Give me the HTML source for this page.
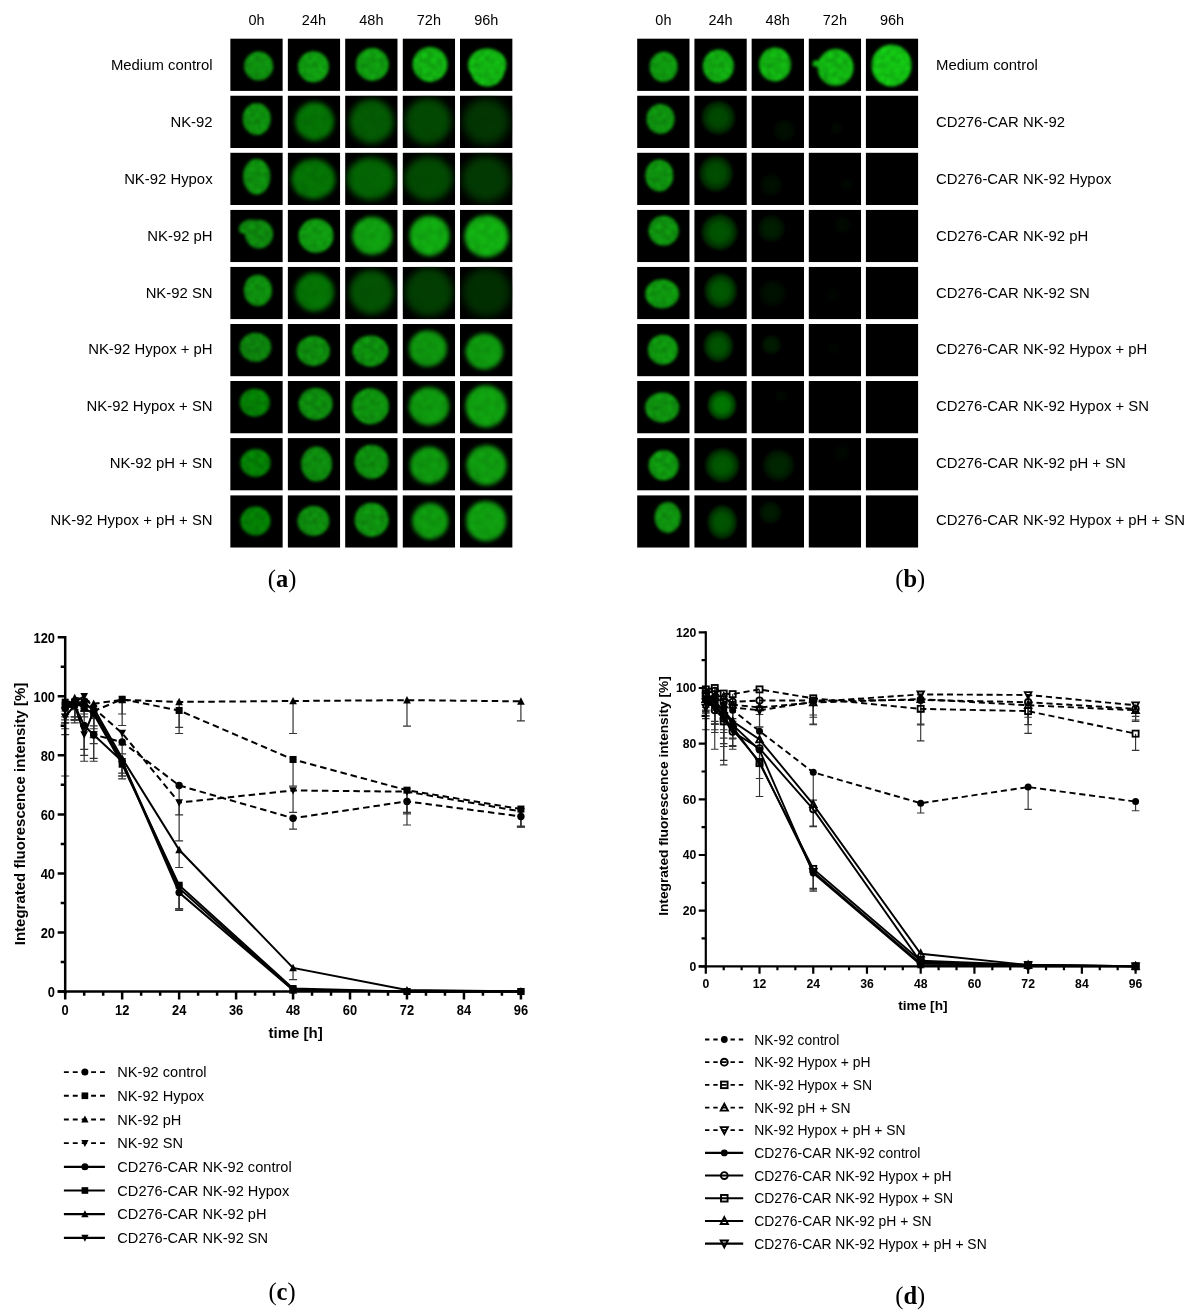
<!DOCTYPE html>
<html><head><meta charset="utf-8"><title>Figure</title>
<style>
html,body{margin:0;padding:0;background:#fff;}
body{width:1195px;height:1315px;overflow:hidden;}
svg.main{display:block;will-change:transform;}
text{fill:#000;}
</style></head><body>
<svg class="main" width="1195" height="1315" viewBox="0 0 1195 1315">
<defs><radialGradient id="gs"><stop offset="0" stop-color="#0f0" stop-opacity="1"/><stop offset="0.45" stop-color="#0f0" stop-opacity="0.92"/><stop offset="0.75" stop-color="#0f0" stop-opacity="0.55"/><stop offset="0.9" stop-color="#0f0" stop-opacity="0.2"/><stop offset="1" stop-color="#0f0" stop-opacity="0"/></radialGradient><filter id="b0" filterUnits="userSpaceOnUse" x="-5" y="-5" width="65" height="65" color-interpolation-filters="sRGB"><feTurbulence type="fractalNoise" baseFrequency="0.2" numOctaves="2" seed="1" result="n"/><feColorMatrix in="n" type="matrix" values="1 0 0 0 0 1 0 0 0 0 1 0 0 0 0 0 0 0 0 1" result="g"/><feComposite in="SourceGraphic" in2="g" operator="arithmetic" k1="0.55" k2="0.74" k3="0" k4="0" result="t"/><feGaussianBlur in="t" stdDeviation="1.4"/></filter><filter id="b1" filterUnits="userSpaceOnUse" x="-5" y="-5" width="65" height="65" color-interpolation-filters="sRGB"><feTurbulence type="fractalNoise" baseFrequency="0.2" numOctaves="2" seed="2" result="n"/><feColorMatrix in="n" type="matrix" values="1 0 0 0 0 1 0 0 0 0 1 0 0 0 0 0 0 0 0 1" result="g"/><feComposite in="SourceGraphic" in2="g" operator="arithmetic" k1="0.55" k2="0.74" k3="0" k4="0" result="t"/><feGaussianBlur in="t" stdDeviation="1.4"/></filter><filter id="b2" filterUnits="userSpaceOnUse" x="-5" y="-5" width="65" height="65" color-interpolation-filters="sRGB"><feTurbulence type="fractalNoise" baseFrequency="0.2" numOctaves="2" seed="3" result="n"/><feColorMatrix in="n" type="matrix" values="1 0 0 0 0 1 0 0 0 0 1 0 0 0 0 0 0 0 0 1" result="g"/><feComposite in="SourceGraphic" in2="g" operator="arithmetic" k1="0.55" k2="0.74" k3="0" k4="0" result="t"/><feGaussianBlur in="t" stdDeviation="1.6"/></filter><filter id="b3" filterUnits="userSpaceOnUse" x="-5" y="-5" width="65" height="65" color-interpolation-filters="sRGB"><feTurbulence type="fractalNoise" baseFrequency="0.2" numOctaves="2" seed="4" result="n"/><feColorMatrix in="n" type="matrix" values="1 0 0 0 0 1 0 0 0 0 1 0 0 0 0 0 0 0 0 1" result="g"/><feComposite in="SourceGraphic" in2="g" operator="arithmetic" k1="0.55" k2="0.74" k3="0" k4="0" result="t"/><feGaussianBlur in="t" stdDeviation="1.6"/></filter><filter id="b4" filterUnits="userSpaceOnUse" x="-5" y="-5" width="65" height="65" color-interpolation-filters="sRGB"><feTurbulence type="fractalNoise" baseFrequency="0.2" numOctaves="2" seed="1" result="n"/><feColorMatrix in="n" type="matrix" values="1 0 0 0 0 1 0 0 0 0 1 0 0 0 0 0 0 0 0 1" result="g"/><feComposite in="SourceGraphic" in2="g" operator="arithmetic" k1="0.55" k2="0.74" k3="0" k4="0" result="t"/><feGaussianBlur in="t" stdDeviation="1.8"/></filter><filter id="b5" filterUnits="userSpaceOnUse" x="-5" y="-5" width="65" height="65" color-interpolation-filters="sRGB"><feTurbulence type="fractalNoise" baseFrequency="0.2" numOctaves="2" seed="3" result="n"/><feColorMatrix in="n" type="matrix" values="1 0 0 0 0 1 0 0 0 0 1 0 0 0 0 0 0 0 0 1" result="g"/><feComposite in="SourceGraphic" in2="g" operator="arithmetic" k1="0.55" k2="0.74" k3="0" k4="0" result="t"/><feGaussianBlur in="t" stdDeviation="2.9"/></filter><filter id="b6" filterUnits="userSpaceOnUse" x="-5" y="-5" width="65" height="65" color-interpolation-filters="sRGB"><feTurbulence type="fractalNoise" baseFrequency="0.2" numOctaves="2" seed="4" result="n"/><feColorMatrix in="n" type="matrix" values="1 0 0 0 0 1 0 0 0 0 1 0 0 0 0 0 0 0 0 1" result="g"/><feComposite in="SourceGraphic" in2="g" operator="arithmetic" k1="0.55" k2="0.74" k3="0" k4="0" result="t"/><feGaussianBlur in="t" stdDeviation="3.3"/></filter><filter id="b7" filterUnits="userSpaceOnUse" x="-5" y="-5" width="65" height="65" color-interpolation-filters="sRGB"><feTurbulence type="fractalNoise" baseFrequency="0.2" numOctaves="2" seed="1" result="n"/><feColorMatrix in="n" type="matrix" values="1 0 0 0 0 1 0 0 0 0 1 0 0 0 0 0 0 0 0 1" result="g"/><feComposite in="SourceGraphic" in2="g" operator="arithmetic" k1="0.55" k2="0.74" k3="0" k4="0" result="t"/><feGaussianBlur in="t" stdDeviation="3.6"/></filter><filter id="b8" filterUnits="userSpaceOnUse" x="-5" y="-5" width="65" height="65" color-interpolation-filters="sRGB"><feTurbulence type="fractalNoise" baseFrequency="0.2" numOctaves="2" seed="2" result="n"/><feColorMatrix in="n" type="matrix" values="1 0 0 0 0 1 0 0 0 0 1 0 0 0 0 0 0 0 0 1" result="g"/><feComposite in="SourceGraphic" in2="g" operator="arithmetic" k1="0.55" k2="0.74" k3="0" k4="0" result="t"/><feGaussianBlur in="t" stdDeviation="4.0"/></filter><filter id="b9" filterUnits="userSpaceOnUse" x="-5" y="-5" width="65" height="65" color-interpolation-filters="sRGB"><feTurbulence type="fractalNoise" baseFrequency="0.2" numOctaves="2" seed="3" result="n"/><feColorMatrix in="n" type="matrix" values="1 0 0 0 0 1 0 0 0 0 1 0 0 0 0 0 0 0 0 1" result="g"/><feComposite in="SourceGraphic" in2="g" operator="arithmetic" k1="0.55" k2="0.74" k3="0" k4="0" result="t"/><feGaussianBlur in="t" stdDeviation="1.4"/></filter><filter id="b10" filterUnits="userSpaceOnUse" x="-5" y="-5" width="65" height="65" color-interpolation-filters="sRGB"><feTurbulence type="fractalNoise" baseFrequency="0.2" numOctaves="2" seed="4" result="n"/><feColorMatrix in="n" type="matrix" values="1 0 0 0 0 1 0 0 0 0 1 0 0 0 0 0 0 0 0 1" result="g"/><feComposite in="SourceGraphic" in2="g" operator="arithmetic" k1="0.55" k2="0.74" k3="0" k4="0" result="t"/><feGaussianBlur in="t" stdDeviation="2.6"/></filter><filter id="b11" filterUnits="userSpaceOnUse" x="-5" y="-5" width="65" height="65" color-interpolation-filters="sRGB"><feTurbulence type="fractalNoise" baseFrequency="0.2" numOctaves="2" seed="1" result="n"/><feColorMatrix in="n" type="matrix" values="1 0 0 0 0 1 0 0 0 0 1 0 0 0 0 0 0 0 0 1" result="g"/><feComposite in="SourceGraphic" in2="g" operator="arithmetic" k1="0.55" k2="0.74" k3="0" k4="0" result="t"/><feGaussianBlur in="t" stdDeviation="3.1"/></filter><filter id="b12" filterUnits="userSpaceOnUse" x="-5" y="-5" width="65" height="65" color-interpolation-filters="sRGB"><feTurbulence type="fractalNoise" baseFrequency="0.2" numOctaves="2" seed="2" result="n"/><feColorMatrix in="n" type="matrix" values="1 0 0 0 0 1 0 0 0 0 1 0 0 0 0 0 0 0 0 1" result="g"/><feComposite in="SourceGraphic" in2="g" operator="arithmetic" k1="0.55" k2="0.74" k3="0" k4="0" result="t"/><feGaussianBlur in="t" stdDeviation="3.6"/></filter><filter id="b13" filterUnits="userSpaceOnUse" x="-5" y="-5" width="65" height="65" color-interpolation-filters="sRGB"><feTurbulence type="fractalNoise" baseFrequency="0.2" numOctaves="2" seed="3" result="n"/><feColorMatrix in="n" type="matrix" values="1 0 0 0 0 1 0 0 0 0 1 0 0 0 0 0 0 0 0 1" result="g"/><feComposite in="SourceGraphic" in2="g" operator="arithmetic" k1="0.55" k2="0.74" k3="0" k4="0" result="t"/><feGaussianBlur in="t" stdDeviation="4.0"/></filter><filter id="b14" filterUnits="userSpaceOnUse" x="-5" y="-5" width="65" height="65" color-interpolation-filters="sRGB"><feTurbulence type="fractalNoise" baseFrequency="0.2" numOctaves="2" seed="4" result="n"/><feColorMatrix in="n" type="matrix" values="1 0 0 0 0 1 0 0 0 0 1 0 0 0 0 0 0 0 0 1" result="g"/><feComposite in="SourceGraphic" in2="g" operator="arithmetic" k1="0.55" k2="0.74" k3="0" k4="0" result="t"/><feGaussianBlur in="t" stdDeviation="1.4"/></filter><filter id="b15" filterUnits="userSpaceOnUse" x="-5" y="-5" width="65" height="65" color-interpolation-filters="sRGB"><feTurbulence type="fractalNoise" baseFrequency="0.2" numOctaves="2" seed="2" result="n"/><feColorMatrix in="n" type="matrix" values="1 0 0 0 0 1 0 0 0 0 1 0 0 0 0 0 0 0 0 1" result="g"/><feComposite in="SourceGraphic" in2="g" operator="arithmetic" k1="0.55" k2="0.74" k3="0" k4="0" result="t"/><feGaussianBlur in="t" stdDeviation="2.0"/></filter><filter id="b16" filterUnits="userSpaceOnUse" x="-5" y="-5" width="65" height="65" color-interpolation-filters="sRGB"><feTurbulence type="fractalNoise" baseFrequency="0.2" numOctaves="2" seed="3" result="n"/><feColorMatrix in="n" type="matrix" values="1 0 0 0 0 1 0 0 0 0 1 0 0 0 0 0 0 0 0 1" result="g"/><feComposite in="SourceGraphic" in2="g" operator="arithmetic" k1="0.55" k2="0.74" k3="0" k4="0" result="t"/><feGaussianBlur in="t" stdDeviation="2.2"/></filter><filter id="b17" filterUnits="userSpaceOnUse" x="-5" y="-5" width="65" height="65" color-interpolation-filters="sRGB"><feTurbulence type="fractalNoise" baseFrequency="0.2" numOctaves="2" seed="4" result="n"/><feColorMatrix in="n" type="matrix" values="1 0 0 0 0 1 0 0 0 0 1 0 0 0 0 0 0 0 0 1" result="g"/><feComposite in="SourceGraphic" in2="g" operator="arithmetic" k1="0.55" k2="0.74" k3="0" k4="0" result="t"/><feGaussianBlur in="t" stdDeviation="2.3"/></filter><filter id="b18" filterUnits="userSpaceOnUse" x="-5" y="-5" width="65" height="65" color-interpolation-filters="sRGB"><feTurbulence type="fractalNoise" baseFrequency="0.2" numOctaves="2" seed="2" result="n"/><feColorMatrix in="n" type="matrix" values="1 0 0 0 0 1 0 0 0 0 1 0 0 0 0 0 0 0 0 1" result="g"/><feComposite in="SourceGraphic" in2="g" operator="arithmetic" k1="0.55" k2="0.74" k3="0" k4="0" result="t"/><feGaussianBlur in="t" stdDeviation="2.9"/></filter><filter id="b19" filterUnits="userSpaceOnUse" x="-5" y="-5" width="65" height="65" color-interpolation-filters="sRGB"><feTurbulence type="fractalNoise" baseFrequency="0.2" numOctaves="2" seed="3" result="n"/><feColorMatrix in="n" type="matrix" values="1 0 0 0 0 1 0 0 0 0 1 0 0 0 0 0 0 0 0 1" result="g"/><feComposite in="SourceGraphic" in2="g" operator="arithmetic" k1="0.55" k2="0.74" k3="0" k4="0" result="t"/><feGaussianBlur in="t" stdDeviation="3.3"/></filter><filter id="b20" filterUnits="userSpaceOnUse" x="-5" y="-5" width="65" height="65" color-interpolation-filters="sRGB"><feTurbulence type="fractalNoise" baseFrequency="0.2" numOctaves="2" seed="4" result="n"/><feColorMatrix in="n" type="matrix" values="1 0 0 0 0 1 0 0 0 0 1 0 0 0 0 0 0 0 0 1" result="g"/><feComposite in="SourceGraphic" in2="g" operator="arithmetic" k1="0.55" k2="0.74" k3="0" k4="0" result="t"/><feGaussianBlur in="t" stdDeviation="3.6"/></filter><filter id="b21" filterUnits="userSpaceOnUse" x="-5" y="-5" width="65" height="65" color-interpolation-filters="sRGB"><feTurbulence type="fractalNoise" baseFrequency="0.2" numOctaves="2" seed="1" result="n"/><feColorMatrix in="n" type="matrix" values="1 0 0 0 0 1 0 0 0 0 1 0 0 0 0 0 0 0 0 1" result="g"/><feComposite in="SourceGraphic" in2="g" operator="arithmetic" k1="0.55" k2="0.74" k3="0" k4="0" result="t"/><feGaussianBlur in="t" stdDeviation="4.0"/></filter><filter id="b22" filterUnits="userSpaceOnUse" x="-5" y="-5" width="65" height="65" color-interpolation-filters="sRGB"><feTurbulence type="fractalNoise" baseFrequency="0.2" numOctaves="2" seed="4" result="n"/><feColorMatrix in="n" type="matrix" values="1 0 0 0 0 1 0 0 0 0 1 0 0 0 0 0 0 0 0 1" result="g"/><feComposite in="SourceGraphic" in2="g" operator="arithmetic" k1="0.55" k2="0.74" k3="0" k4="0" result="t"/><feGaussianBlur in="t" stdDeviation="1.8"/></filter><filter id="b23" filterUnits="userSpaceOnUse" x="-5" y="-5" width="65" height="65" color-interpolation-filters="sRGB"><feTurbulence type="fractalNoise" baseFrequency="0.2" numOctaves="2" seed="1" result="n"/><feColorMatrix in="n" type="matrix" values="1 0 0 0 0 1 0 0 0 0 1 0 0 0 0 0 0 0 0 1" result="g"/><feComposite in="SourceGraphic" in2="g" operator="arithmetic" k1="0.55" k2="0.74" k3="0" k4="0" result="t"/><feGaussianBlur in="t" stdDeviation="2.0"/></filter><filter id="b24" filterUnits="userSpaceOnUse" x="-5" y="-5" width="65" height="65" color-interpolation-filters="sRGB"><feTurbulence type="fractalNoise" baseFrequency="0.2" numOctaves="2" seed="2" result="n"/><feColorMatrix in="n" type="matrix" values="1 0 0 0 0 1 0 0 0 0 1 0 0 0 0 0 0 0 0 1" result="g"/><feComposite in="SourceGraphic" in2="g" operator="arithmetic" k1="0.55" k2="0.74" k3="0" k4="0" result="t"/><feGaussianBlur in="t" stdDeviation="2.2"/></filter><filter id="b25" filterUnits="userSpaceOnUse" x="-5" y="-5" width="65" height="65" color-interpolation-filters="sRGB"><feTurbulence type="fractalNoise" baseFrequency="0.2" numOctaves="2" seed="1" result="n"/><feColorMatrix in="n" type="matrix" values="1 0 0 0 0 1 0 0 0 0 1 0 0 0 0 0 0 0 0 1" result="g"/><feComposite in="SourceGraphic" in2="g" operator="arithmetic" k1="0.55" k2="0.74" k3="0" k4="0" result="t"/><feGaussianBlur in="t" stdDeviation="1.6"/></filter><filter id="b26" filterUnits="userSpaceOnUse" x="-5" y="-5" width="65" height="65" color-interpolation-filters="sRGB"><feTurbulence type="fractalNoise" baseFrequency="0.2" numOctaves="2" seed="2" result="n"/><feColorMatrix in="n" type="matrix" values="1 0 0 0 0 1 0 0 0 0 1 0 0 0 0 0 0 0 0 1" result="g"/><feComposite in="SourceGraphic" in2="g" operator="arithmetic" k1="0.55" k2="0.74" k3="0" k4="0" result="t"/><feGaussianBlur in="t" stdDeviation="1.8"/></filter><filter id="b27" filterUnits="userSpaceOnUse" x="-5" y="-5" width="65" height="65" color-interpolation-filters="sRGB"><feTurbulence type="fractalNoise" baseFrequency="0.2" numOctaves="2" seed="3" result="n"/><feColorMatrix in="n" type="matrix" values="1 0 0 0 0 1 0 0 0 0 1 0 0 0 0 0 0 0 0 1" result="g"/><feComposite in="SourceGraphic" in2="g" operator="arithmetic" k1="0.55" k2="0.74" k3="0" k4="0" result="t"/><feGaussianBlur in="t" stdDeviation="2.0"/></filter><filter id="b28" filterUnits="userSpaceOnUse" x="-5" y="-5" width="65" height="65" color-interpolation-filters="sRGB"><feTurbulence type="fractalNoise" baseFrequency="0.2" numOctaves="2" seed="4" result="n"/><feColorMatrix in="n" type="matrix" values="1 0 0 0 0 1 0 0 0 0 1 0 0 0 0 0 0 0 0 1" result="g"/><feComposite in="SourceGraphic" in2="g" operator="arithmetic" k1="0.55" k2="0.74" k3="0" k4="0" result="t"/><feGaussianBlur in="t" stdDeviation="2.2"/></filter><filter id="b29" filterUnits="userSpaceOnUse" x="-5" y="-5" width="65" height="65" color-interpolation-filters="sRGB"><feTurbulence type="fractalNoise" baseFrequency="0.2" numOctaves="2" seed="2" result="n"/><feColorMatrix in="n" type="matrix" values="1 0 0 0 0 1 0 0 0 0 1 0 0 0 0 0 0 0 0 1" result="g"/><feComposite in="SourceGraphic" in2="g" operator="arithmetic" k1="0.55" k2="0.74" k3="0" k4="0" result="t"/><feGaussianBlur in="t" stdDeviation="1.6"/></filter><filter id="b30" filterUnits="userSpaceOnUse" x="-5" y="-5" width="65" height="65" color-interpolation-filters="sRGB"><feTurbulence type="fractalNoise" baseFrequency="0.2" numOctaves="2" seed="3" result="n"/><feColorMatrix in="n" type="matrix" values="1 0 0 0 0 1 0 0 0 0 1 0 0 0 0 0 0 0 0 1" result="g"/><feComposite in="SourceGraphic" in2="g" operator="arithmetic" k1="0.55" k2="0.74" k3="0" k4="0" result="t"/><feGaussianBlur in="t" stdDeviation="1.8"/></filter><filter id="b31" filterUnits="userSpaceOnUse" x="-5" y="-5" width="65" height="65" color-interpolation-filters="sRGB"><feTurbulence type="fractalNoise" baseFrequency="0.2" numOctaves="2" seed="4" result="n"/><feColorMatrix in="n" type="matrix" values="1 0 0 0 0 1 0 0 0 0 1 0 0 0 0 0 0 0 0 1" result="g"/><feComposite in="SourceGraphic" in2="g" operator="arithmetic" k1="0.55" k2="0.74" k3="0" k4="0" result="t"/><feGaussianBlur in="t" stdDeviation="2.0"/></filter><filter id="b32" filterUnits="userSpaceOnUse" x="-5" y="-5" width="65" height="65" color-interpolation-filters="sRGB"><feTurbulence type="fractalNoise" baseFrequency="0.2" numOctaves="2" seed="1" result="n"/><feColorMatrix in="n" type="matrix" values="1 0 0 0 0 1 0 0 0 0 1 0 0 0 0 0 0 0 0 1" result="g"/><feComposite in="SourceGraphic" in2="g" operator="arithmetic" k1="0.55" k2="0.74" k3="0" k4="0" result="t"/><feGaussianBlur in="t" stdDeviation="2.2"/></filter></defs>
<rect width="1195" height="1315" fill="#fff"/>
<svg x="230.20" y="38.40" width="52.6" height="52.5"><rect width="100%" height="100%" fill="#000"/><g fill="rgb(14,141,14)" filter="url(#b0)"><ellipse cx="28.4" cy="27.5" rx="14.5" ry="14.5"/></g></svg>
<svg x="287.65" y="38.40" width="52.6" height="52.5"><rect width="100%" height="100%" fill="#000"/><g fill="rgb(15,152,15)" filter="url(#b1)"><ellipse cx="25.8" cy="28.4" rx="15.5" ry="15.5"/></g></svg>
<svg x="345.10" y="38.40" width="52.6" height="52.5"><rect width="100%" height="100%" fill="#000"/><g fill="rgb(15,152,15)" filter="url(#b2)"><ellipse cx="27.2" cy="26" rx="16.3" ry="16.3"/></g></svg>
<svg x="402.55" y="38.40" width="52.6" height="52.5"><rect width="100%" height="100%" fill="#000"/><g fill="rgb(17,170,17)" filter="url(#b3)"><ellipse cx="27.5" cy="26" rx="17.5" ry="17.5"/></g></svg>
<svg x="460.00" y="38.40" width="52.6" height="52.5"><rect width="100%" height="100%" fill="#000"/><g fill="rgb(17,175,17)" filter="url(#b4)"><ellipse cx="27.2" cy="26.5" rx="19.3" ry="16.5"/><ellipse cx="27.5" cy="32" rx="16.8" ry="16"/></g></svg>
<svg x="230.20" y="95.50" width="52.6" height="52.5"><rect width="100%" height="100%" fill="#000"/><g fill="rgb(13,139,13)" filter="url(#b1)"><ellipse cx="26.5" cy="23.4" rx="14" ry="16"/><ellipse cx="29" cy="14" rx="7" ry="6"/></g></svg>
<svg x="287.65" y="95.50" width="52.6" height="52.5"><rect width="100%" height="100%" fill="#000"/><g fill="rgb(4,112,4)" filter="url(#b5)"><ellipse cx="27" cy="25.8" rx="19.3" ry="19.3"/></g></svg>
<svg x="345.10" y="95.50" width="52.6" height="52.5"><rect width="100%" height="100%" fill="#000"/><g fill="rgb(3,88,3)" filter="url(#b6)"><ellipse cx="26.5" cy="25.8" rx="22" ry="22"/></g></svg>
<svg x="402.55" y="95.50" width="52.6" height="52.5"><rect width="100%" height="100%" fill="#000"/><g fill="rgb(2,70,2)" filter="url(#b7)"><ellipse cx="25.5" cy="25.8" rx="23" ry="23"/></g></svg>
<svg x="460.00" y="95.50" width="52.6" height="52.5"><rect width="100%" height="100%" fill="#000"/><g fill="rgb(2,52,2)" filter="url(#b8)"><ellipse cx="26" cy="26" rx="23" ry="23"/></g></svg>
<svg x="230.20" y="152.60" width="52.6" height="52.5"><rect width="100%" height="100%" fill="#000"/><g fill="rgb(13,139,13)" filter="url(#b9)"><ellipse cx="26.5" cy="24" rx="13.6" ry="17.8"/></g></svg>
<svg x="287.65" y="152.60" width="52.6" height="52.5"><rect width="100%" height="100%" fill="#000"/><g fill="rgb(4,112,4)" filter="url(#b10)"><ellipse cx="25.8" cy="26.5" rx="22" ry="20"/></g></svg>
<svg x="345.10" y="152.60" width="52.6" height="52.5"><rect width="100%" height="100%" fill="#000"/><g fill="rgb(3,98,3)" filter="url(#b11)"><ellipse cx="26" cy="26" rx="24" ry="21"/></g></svg>
<svg x="402.55" y="152.60" width="52.6" height="52.5"><rect width="100%" height="100%" fill="#000"/><g fill="rgb(2,72,2)" filter="url(#b12)"><ellipse cx="26" cy="26" rx="24" ry="22"/></g></svg>
<svg x="460.00" y="152.60" width="52.6" height="52.5"><rect width="100%" height="100%" fill="#000"/><g fill="rgb(2,56,2)" filter="url(#b13)"><ellipse cx="26" cy="26.5" rx="24" ry="23"/></g></svg>
<svg x="230.20" y="209.70" width="52.6" height="52.5"><rect width="100%" height="100%" fill="#000"/><g fill="rgb(13,132,13)" filter="url(#b14)"><ellipse cx="28.8" cy="24.4" rx="14" ry="14.3"/><ellipse cx="18" cy="17" rx="10" ry="6.5" transform="rotate(-25 18 17)"/></g></svg>
<svg x="287.65" y="209.70" width="52.6" height="52.5"><rect width="100%" height="100%" fill="#000"/><g fill="rgb(15,150,15)" filter="url(#b4)"><ellipse cx="28.4" cy="26" rx="17.5" ry="17"/></g></svg>
<svg x="345.10" y="209.70" width="52.6" height="52.5"><rect width="100%" height="100%" fill="#000"/><g fill="rgb(15,155,15)" filter="url(#b15)"><ellipse cx="27.2" cy="26" rx="20" ry="19"/></g></svg>
<svg x="402.55" y="209.70" width="52.6" height="52.5"><rect width="100%" height="100%" fill="#000"/><g fill="rgb(16,165,16)" filter="url(#b16)"><ellipse cx="27" cy="26" rx="20" ry="20"/></g></svg>
<svg x="460.00" y="209.70" width="52.6" height="52.5"><rect width="100%" height="100%" fill="#000"/><g fill="rgb(17,170,17)" filter="url(#b17)"><ellipse cx="26.5" cy="26.5" rx="22" ry="21"/></g></svg>
<svg x="230.20" y="266.80" width="52.6" height="52.5"><rect width="100%" height="100%" fill="#000"/><g fill="rgb(13,139,13)" filter="url(#b0)"><ellipse cx="27.7" cy="23.6" rx="14" ry="15.7"/></g></svg>
<svg x="287.65" y="266.80" width="52.6" height="52.5"><rect width="100%" height="100%" fill="#000"/><g fill="rgb(4,112,4)" filter="url(#b18)"><ellipse cx="27" cy="25.3" rx="19.3" ry="19.3"/></g></svg>
<svg x="345.10" y="266.80" width="52.6" height="52.5"><rect width="100%" height="100%" fill="#000"/><g fill="rgb(3,80,3)" filter="url(#b19)"><ellipse cx="26.5" cy="25.3" rx="22" ry="22"/></g></svg>
<svg x="402.55" y="266.80" width="52.6" height="52.5"><rect width="100%" height="100%" fill="#000"/><g fill="rgb(2,60,2)" filter="url(#b20)"><ellipse cx="26.5" cy="25.3" rx="24" ry="24"/></g></svg>
<svg x="460.00" y="266.80" width="52.6" height="52.5"><rect width="100%" height="100%" fill="#000"/><g fill="rgb(1,46,1)" filter="url(#b21)"><ellipse cx="26.5" cy="25.3" rx="24" ry="24"/></g></svg>
<svg x="230.20" y="323.90" width="52.6" height="52.5"><rect width="100%" height="100%" fill="#000"/><g fill="rgb(12,126,12)" filter="url(#b1)"><ellipse cx="25.3" cy="23.4" rx="15.7" ry="14.5"/></g></svg>
<svg x="287.65" y="323.90" width="52.6" height="52.5"><rect width="100%" height="100%" fill="#000"/><g fill="rgb(13,136,13)" filter="url(#b2)"><ellipse cx="25.8" cy="27" rx="16.5" ry="15"/></g></svg>
<svg x="345.10" y="323.90" width="52.6" height="52.5"><rect width="100%" height="100%" fill="#000"/><g fill="rgb(13,138,13)" filter="url(#b22)"><ellipse cx="25.3" cy="27" rx="18" ry="15.5"/></g></svg>
<svg x="402.55" y="323.90" width="52.6" height="52.5"><rect width="100%" height="100%" fill="#000"/><g fill="rgb(14,145,14)" filter="url(#b23)"><ellipse cx="25.3" cy="24.6" rx="19" ry="18"/></g></svg>
<svg x="460.00" y="323.90" width="52.6" height="52.5"><rect width="100%" height="100%" fill="#000"/><g fill="rgb(14,149,14)" filter="url(#b24)"><ellipse cx="24.3" cy="27.5" rx="18.7" ry="18"/></g></svg>
<svg x="230.20" y="381.00" width="52.6" height="52.5"><rect width="100%" height="100%" fill="#000"/><g fill="rgb(4,124,4)" filter="url(#b9)"><ellipse cx="24.6" cy="21.7" rx="15" ry="14"/></g></svg>
<svg x="287.65" y="381.00" width="52.6" height="52.5"><rect width="100%" height="100%" fill="#000"/><g fill="rgb(13,136,13)" filter="url(#b3)"><ellipse cx="28" cy="22.9" rx="17" ry="16"/></g></svg>
<svg x="345.10" y="381.00" width="52.6" height="52.5"><rect width="100%" height="100%" fill="#000"/><g fill="rgb(14,142,14)" filter="url(#b4)"><ellipse cx="25.3" cy="25.3" rx="18.5" ry="18"/></g></svg>
<svg x="402.55" y="381.00" width="52.6" height="52.5"><rect width="100%" height="100%" fill="#000"/><g fill="rgb(14,149,14)" filter="url(#b15)"><ellipse cx="26.5" cy="25.3" rx="20" ry="19"/></g></svg>
<svg x="460.00" y="381.00" width="52.6" height="52.5"><rect width="100%" height="100%" fill="#000"/><g fill="rgb(15,156,15)" filter="url(#b16)"><ellipse cx="26" cy="25.3" rx="20.5" ry="21"/></g></svg>
<svg x="230.20" y="438.10" width="52.6" height="52.5"><rect width="100%" height="100%" fill="#000"/><g fill="rgb(4,124,4)" filter="url(#b14)"><ellipse cx="25.3" cy="24.8" rx="15" ry="14"/></g></svg>
<svg x="287.65" y="438.10" width="52.6" height="52.5"><rect width="100%" height="100%" fill="#000"/><g fill="rgb(13,136,13)" filter="url(#b25)"><ellipse cx="28.9" cy="26" rx="15.5" ry="17.5"/></g></svg>
<svg x="345.10" y="438.10" width="52.6" height="52.5"><rect width="100%" height="100%" fill="#000"/><g fill="rgb(13,138,13)" filter="url(#b26)"><ellipse cx="26.5" cy="23.6" rx="17" ry="17"/></g></svg>
<svg x="402.55" y="438.10" width="52.6" height="52.5"><rect width="100%" height="100%" fill="#000"/><g fill="rgb(14,147,14)" filter="url(#b27)"><ellipse cx="26.5" cy="27.2" rx="19" ry="18.5"/></g></svg>
<svg x="460.00" y="438.10" width="52.6" height="52.5"><rect width="100%" height="100%" fill="#000"/><g fill="rgb(15,151,15)" filter="url(#b28)"><ellipse cx="26.5" cy="27.2" rx="20" ry="20"/></g></svg>
<svg x="230.20" y="495.20" width="52.6" height="52.5"><rect width="100%" height="100%" fill="#000"/><g fill="rgb(4,124,4)" filter="url(#b0)"><ellipse cx="25.3" cy="25.8" rx="15" ry="14.5"/></g></svg>
<svg x="287.65" y="495.20" width="52.6" height="52.5"><rect width="100%" height="100%" fill="#000"/><g fill="rgb(13,136,13)" filter="url(#b29)"><ellipse cx="25.8" cy="25.8" rx="16" ry="15"/></g></svg>
<svg x="345.10" y="495.20" width="52.6" height="52.5"><rect width="100%" height="100%" fill="#000"/><g fill="rgb(14,142,14)" filter="url(#b30)"><ellipse cx="26.5" cy="24.6" rx="17" ry="17"/></g></svg>
<svg x="402.55" y="495.20" width="52.6" height="52.5"><rect width="100%" height="100%" fill="#000"/><g fill="rgb(14,149,14)" filter="url(#b31)"><ellipse cx="27.7" cy="25.8" rx="18" ry="18"/></g></svg>
<svg x="460.00" y="495.20" width="52.6" height="52.5"><rect width="100%" height="100%" fill="#000"/><g fill="rgb(15,154,15)" filter="url(#b32)"><ellipse cx="26" cy="25.8" rx="20" ry="20"/></g></svg>
<svg x="637.10" y="38.40" width="52.6" height="52.5"><rect width="100%" height="100%" fill="#000"/><g fill="rgb(15,150,15)" filter="url(#b0)"><ellipse cx="26.5" cy="28.4" rx="14" ry="15"/></g></svg>
<svg x="694.25" y="38.40" width="52.6" height="52.5"><rect width="100%" height="100%" fill="#000"/><g fill="rgb(16,165,16)" filter="url(#b1)"><ellipse cx="24.1" cy="27.7" rx="15.5" ry="16.5"/></g></svg>
<svg x="751.40" y="38.40" width="52.6" height="52.5"><rect width="100%" height="100%" fill="#000"/><g fill="rgb(17,172,17)" filter="url(#b9)"><ellipse cx="23.6" cy="26" rx="16" ry="17"/></g></svg>
<svg x="808.55" y="38.40" width="52.6" height="52.5"><rect width="100%" height="100%" fill="#000"/><g fill="rgb(17,176,17)" filter="url(#b3)"><ellipse cx="27" cy="28.9" rx="18" ry="18.5"/><ellipse cx="7.5" cy="25" rx="3.5" ry="3.2"/></g></svg>
<svg x="865.70" y="38.40" width="52.6" height="52.5"><rect width="100%" height="100%" fill="#000"/><g fill="rgb(18,188,18)" filter="url(#b25)"><ellipse cx="25.8" cy="27" rx="20" ry="21"/></g></svg>
<svg x="637.10" y="95.50" width="52.6" height="52.5"><rect width="100%" height="100%" fill="#000"/><g fill="rgb(14,142,14)" filter="url(#b1)"><ellipse cx="23.4" cy="23.4" rx="14" ry="15"/></g></svg>
<svg x="694.25" y="95.50" width="52.6" height="52.5"><rect width="100%" height="100%" fill="#000"/><ellipse cx="24.1" cy="22.2" rx="18.60" ry="18.60" fill="url(#gs)" opacity="0.293"/></svg>
<svg x="751.40" y="95.50" width="52.6" height="52.5"><rect width="100%" height="100%" fill="#000"/><ellipse cx="33" cy="35" rx="12.40" ry="12.40" fill="url(#gs)" opacity="0.060"/></svg>
<svg x="808.55" y="95.50" width="52.6" height="52.5"><rect width="100%" height="100%" fill="#000"/><ellipse cx="28" cy="33" rx="7.08" ry="7.08" fill="url(#gs)" opacity="0.035"/></svg>
<svg x="865.70" y="95.50" width="52.6" height="52.5"><rect width="100%" height="100%" fill="#000"/></svg>
<svg x="637.10" y="152.60" width="52.6" height="52.5"><rect width="100%" height="100%" fill="#000"/><g fill="rgb(14,142,14)" filter="url(#b9)"><ellipse cx="22.2" cy="22.9" rx="14" ry="16"/></g></svg>
<svg x="694.25" y="152.60" width="52.6" height="52.5"><rect width="100%" height="100%" fill="#000"/><ellipse cx="21.7" cy="21" rx="18.60" ry="19.84" fill="url(#gs)" opacity="0.311"/></svg>
<svg x="751.40" y="152.60" width="52.6" height="52.5"><rect width="100%" height="100%" fill="#000"/><ellipse cx="20" cy="32.5" rx="12.40" ry="12.40" fill="url(#gs)" opacity="0.060"/></svg>
<svg x="808.55" y="152.60" width="52.6" height="52.5"><rect width="100%" height="100%" fill="#000"/><ellipse cx="38" cy="32" rx="7.08" ry="7.08" fill="url(#gs)" opacity="0.026"/></svg>
<svg x="865.70" y="152.60" width="52.6" height="52.5"><rect width="100%" height="100%" fill="#000"/></svg>
<svg x="637.10" y="209.70" width="52.6" height="52.5"><rect width="100%" height="100%" fill="#000"/><g fill="rgb(14,142,14)" filter="url(#b14)"><ellipse cx="26.5" cy="21" rx="15" ry="15"/></g></svg>
<svg x="694.25" y="209.70" width="52.6" height="52.5"><rect width="100%" height="100%" fill="#000"/><ellipse cx="25.3" cy="22.4" rx="19.84" ry="19.84" fill="url(#gs)" opacity="0.336"/></svg>
<svg x="751.40" y="209.70" width="52.6" height="52.5"><rect width="100%" height="100%" fill="#000"/><ellipse cx="20" cy="18.8" rx="14.88" ry="14.88" fill="url(#gs)" opacity="0.121"/></svg>
<svg x="808.55" y="209.70" width="52.6" height="52.5"><rect width="100%" height="100%" fill="#000"/><ellipse cx="34" cy="15" rx="9.44" ry="9.44" fill="url(#gs)" opacity="0.035"/></svg>
<svg x="865.70" y="209.70" width="52.6" height="52.5"><rect width="100%" height="100%" fill="#000"/></svg>
<svg x="637.10" y="266.80" width="52.6" height="52.5"><rect width="100%" height="100%" fill="#000"/><g fill="rgb(14,147,14)" filter="url(#b0)"><ellipse cx="25" cy="27" rx="16.9" ry="14.5"/></g></svg>
<svg x="694.25" y="266.80" width="52.6" height="52.5"><rect width="100%" height="100%" fill="#000"/><ellipse cx="26.5" cy="24.1" rx="17.98" ry="19.22" fill="url(#gs)" opacity="0.354"/></svg>
<svg x="751.40" y="266.80" width="52.6" height="52.5"><rect width="100%" height="100%" fill="#000"/><ellipse cx="21.2" cy="26.5" rx="14.88" ry="14.88" fill="url(#gs)" opacity="0.069"/></svg>
<svg x="808.55" y="266.80" width="52.6" height="52.5"><rect width="100%" height="100%" fill="#000"/><ellipse cx="24" cy="28" rx="7.08" ry="7.08" fill="url(#gs)" opacity="0.022"/></svg>
<svg x="865.70" y="266.80" width="52.6" height="52.5"><rect width="100%" height="100%" fill="#000"/></svg>
<svg x="637.10" y="323.90" width="52.6" height="52.5"><rect width="100%" height="100%" fill="#000"/><g fill="rgb(14,147,14)" filter="url(#b1)"><ellipse cx="25.8" cy="25.8" rx="15" ry="15"/></g></svg>
<svg x="694.25" y="323.90" width="52.6" height="52.5"><rect width="100%" height="100%" fill="#000"/><ellipse cx="24.1" cy="22.2" rx="16.34" ry="17.54" fill="url(#gs)" opacity="0.336"/></svg>
<svg x="751.40" y="323.90" width="52.6" height="52.5"><rect width="100%" height="100%" fill="#000"/><ellipse cx="20" cy="21" rx="10.89" ry="10.89" fill="url(#gs)" opacity="0.108"/></svg>
<svg x="808.55" y="323.90" width="52.6" height="52.5"><rect width="100%" height="100%" fill="#000"/><ellipse cx="25" cy="25" rx="7.08" ry="7.08" fill="url(#gs)" opacity="0.022"/></svg>
<svg x="865.70" y="323.90" width="52.6" height="52.5"><rect width="100%" height="100%" fill="#000"/></svg>
<svg x="637.10" y="381.00" width="52.6" height="52.5"><rect width="100%" height="100%" fill="#000"/><g fill="rgb(14,142,14)" filter="url(#b9)"><ellipse cx="25" cy="26.5" rx="17" ry="15"/></g></svg>
<svg x="694.25" y="381.00" width="52.6" height="52.5"><rect width="100%" height="100%" fill="#000"/><ellipse cx="27.7" cy="24.1" rx="15.93" ry="16.52" fill="url(#gs)" opacity="0.475"/></svg>
<svg x="751.40" y="381.00" width="52.6" height="52.5"><rect width="100%" height="100%" fill="#000"/><ellipse cx="30" cy="15" rx="7.08" ry="7.08" fill="url(#gs)" opacity="0.026"/></svg>
<svg x="808.55" y="381.00" width="52.6" height="52.5"><rect width="100%" height="100%" fill="#000"/></svg>
<svg x="865.70" y="381.00" width="52.6" height="52.5"><rect width="100%" height="100%" fill="#000"/></svg>
<svg x="637.10" y="438.10" width="52.6" height="52.5"><rect width="100%" height="100%" fill="#000"/><g fill="rgb(14,147,14)" filter="url(#b14)"><ellipse cx="26.5" cy="27.2" rx="15" ry="15"/></g></svg>
<svg x="694.25" y="438.10" width="52.6" height="52.5"><rect width="100%" height="100%" fill="#000"/><ellipse cx="28" cy="27.2" rx="18.75" ry="18.75" fill="url(#gs)" opacity="0.354"/></svg>
<svg x="751.40" y="438.10" width="52.6" height="52.5"><rect width="100%" height="100%" fill="#000"/><ellipse cx="27.2" cy="27.2" rx="17.36" ry="17.36" fill="url(#gs)" opacity="0.155"/></svg>
<svg x="808.55" y="438.10" width="52.6" height="52.5"><rect width="100%" height="100%" fill="#000"/><ellipse cx="33" cy="15" rx="9.44" ry="9.44" fill="url(#gs)" opacity="0.026"/></svg>
<svg x="865.70" y="438.10" width="52.6" height="52.5"><rect width="100%" height="100%" fill="#000"/></svg>
<svg x="637.10" y="495.20" width="52.6" height="52.5"><rect width="100%" height="100%" fill="#000"/><g fill="rgb(14,142,14)" filter="url(#b0)"><ellipse cx="30.6" cy="22.2" rx="13" ry="15.5"/></g></svg>
<svg x="694.25" y="495.20" width="52.6" height="52.5"><rect width="100%" height="100%" fill="#000"/><ellipse cx="28" cy="27" rx="16.34" ry="18.75" fill="url(#gs)" opacity="0.336"/></svg>
<svg x="751.40" y="495.20" width="52.6" height="52.5"><rect width="100%" height="100%" fill="#000"/><ellipse cx="19" cy="17.4" rx="12.40" ry="12.40" fill="url(#gs)" opacity="0.108"/></svg>
<svg x="808.55" y="495.20" width="52.6" height="52.5"><rect width="100%" height="100%" fill="#000"/></svg>
<svg x="865.70" y="495.20" width="52.6" height="52.5"><rect width="100%" height="100%" fill="#000"/></svg>
<g fill="#000" font-family="Liberation Sans">
<text transform="translate(256.50,25.1) scale(0.935,1)" font-family="Liberation Sans" font-size="15.5" text-anchor="middle">0h</text>
<text transform="translate(663.40,25.1) scale(0.935,1)" font-family="Liberation Sans" font-size="15.5" text-anchor="middle">0h</text>
<text transform="translate(313.95,25.1) scale(0.935,1)" font-family="Liberation Sans" font-size="15.5" text-anchor="middle">24h</text>
<text transform="translate(720.55,25.1) scale(0.935,1)" font-family="Liberation Sans" font-size="15.5" text-anchor="middle">24h</text>
<text transform="translate(371.40,25.1) scale(0.935,1)" font-family="Liberation Sans" font-size="15.5" text-anchor="middle">48h</text>
<text transform="translate(777.70,25.1) scale(0.935,1)" font-family="Liberation Sans" font-size="15.5" text-anchor="middle">48h</text>
<text transform="translate(428.85,25.1) scale(0.935,1)" font-family="Liberation Sans" font-size="15.5" text-anchor="middle">72h</text>
<text transform="translate(834.85,25.1) scale(0.935,1)" font-family="Liberation Sans" font-size="15.5" text-anchor="middle">72h</text>
<text transform="translate(486.30,25.1) scale(0.935,1)" font-family="Liberation Sans" font-size="15.5" text-anchor="middle">96h</text>
<text transform="translate(892.00,25.1) scale(0.935,1)" font-family="Liberation Sans" font-size="15.5" text-anchor="middle">96h</text>
<text x="212.60" y="70.10" font-family="Liberation Sans" font-size="14.88" font-weight="400" text-anchor="end" >Medium control</text>
<text x="936.10" y="70.10" font-family="Liberation Sans" font-size="14.88" font-weight="400" text-anchor="start" >Medium control</text>
<text x="212.60" y="126.95" font-family="Liberation Sans" font-size="14.88" font-weight="400" text-anchor="end" >NK-92</text>
<text x="936.10" y="126.95" font-family="Liberation Sans" font-size="14.88" font-weight="400" text-anchor="start" >CD276-CAR NK-92</text>
<text x="212.60" y="183.80" font-family="Liberation Sans" font-size="14.88" font-weight="400" text-anchor="end" >NK-92 Hypox</text>
<text x="936.10" y="183.80" font-family="Liberation Sans" font-size="14.88" font-weight="400" text-anchor="start" >CD276-CAR NK-92 Hypox</text>
<text x="212.60" y="240.65" font-family="Liberation Sans" font-size="14.88" font-weight="400" text-anchor="end" >NK-92 pH</text>
<text x="936.10" y="240.65" font-family="Liberation Sans" font-size="14.88" font-weight="400" text-anchor="start" >CD276-CAR NK-92 pH</text>
<text x="212.60" y="297.50" font-family="Liberation Sans" font-size="14.88" font-weight="400" text-anchor="end" >NK-92 SN</text>
<text x="936.10" y="297.50" font-family="Liberation Sans" font-size="14.88" font-weight="400" text-anchor="start" >CD276-CAR NK-92 SN</text>
<text x="212.60" y="354.35" font-family="Liberation Sans" font-size="14.88" font-weight="400" text-anchor="end" >NK-92 Hypox + pH</text>
<text x="936.10" y="354.35" font-family="Liberation Sans" font-size="14.88" font-weight="400" text-anchor="start" >CD276-CAR NK-92 Hypox + pH</text>
<text x="212.60" y="411.20" font-family="Liberation Sans" font-size="14.88" font-weight="400" text-anchor="end" >NK-92 Hypox + SN</text>
<text x="936.10" y="411.20" font-family="Liberation Sans" font-size="14.88" font-weight="400" text-anchor="start" >CD276-CAR NK-92 Hypox + SN</text>
<text x="212.60" y="468.05" font-family="Liberation Sans" font-size="14.88" font-weight="400" text-anchor="end" >NK-92 pH + SN</text>
<text x="936.10" y="468.05" font-family="Liberation Sans" font-size="14.88" font-weight="400" text-anchor="start" >CD276-CAR NK-92 pH + SN</text>
<text x="212.60" y="524.90" font-family="Liberation Sans" font-size="14.88" font-weight="400" text-anchor="end" >NK-92 Hypox + pH + SN</text>
<text x="936.10" y="524.90" font-family="Liberation Sans" font-size="14.88" font-weight="400" text-anchor="start" >CD276-CAR NK-92 Hypox + pH + SN</text>
<text x="282.00" y="586.80" font-family="Liberation Serif" font-size="24.5" text-anchor="middle">(<tspan font-weight="700">a</tspan>)</text>
<text x="910.20" y="586.90" font-family="Liberation Serif" font-size="24.5" text-anchor="middle">(<tspan font-weight="700">b</tspan>)</text>
<text x="282.00" y="1299.90" font-family="Liberation Serif" font-size="24.5" text-anchor="middle">(<tspan font-weight="700">c</tspan>)</text>
<text x="910.20" y="1303.70" font-family="Liberation Serif" font-size="24.5" text-anchor="middle">(<tspan font-weight="700">d</tspan>)</text>
</g>
<path d="M65.20 708.11V719.92M61.20 719.92H69.20" stroke="#333" stroke-width="1.20" fill="none"/>
<path d="M74.69 705.16V719.92M70.69 719.92H78.69" stroke="#333" stroke-width="1.20" fill="none"/>
<path d="M84.19 725.82V749.44M80.19 749.44H88.19" stroke="#333" stroke-width="1.20" fill="none"/>
<path d="M93.68 734.68V758.29M89.68 758.29H97.68" stroke="#333" stroke-width="1.20" fill="none"/>
<path d="M122.16 742.06V753.86M118.16 753.86H126.16" stroke="#333" stroke-width="1.20" fill="none"/>
<path d="M179.13 785.45V814.97M175.13 814.97H183.13" stroke="#333" stroke-width="1.20" fill="none"/>
<path d="M293.06 818.22V829.14M289.06 829.14H297.06" stroke="#333" stroke-width="1.20" fill="none"/>
<path d="M406.98 801.39V825.01M402.98 825.01H410.98" stroke="#333" stroke-width="1.20" fill="none"/>
<path d="M520.91 816.45V827.07M516.91 827.07H524.91" stroke="#333" stroke-width="1.20" fill="none"/>
<path d="M65.20 702.20V716.96M61.20 716.96H69.20" stroke="#333" stroke-width="1.20" fill="none"/>
<path d="M74.69 702.20V719.92M70.69 719.92H78.69" stroke="#333" stroke-width="1.20" fill="none"/>
<path d="M84.19 702.20V711.06M80.19 711.06H88.19" stroke="#333" stroke-width="1.20" fill="none"/>
<path d="M93.68 711.06V725.82M89.68 725.82H97.68" stroke="#333" stroke-width="1.20" fill="none"/>
<path d="M122.16 699.25V714.01M118.16 714.01H126.16" stroke="#333" stroke-width="1.20" fill="none"/>
<path d="M179.13 710.47V733.50M175.13 733.50H183.13" stroke="#333" stroke-width="1.20" fill="none"/>
<path d="M293.06 759.47V786.04M289.06 786.04H297.06" stroke="#333" stroke-width="1.20" fill="none"/>
<path d="M406.98 790.17V813.79M402.98 813.79H410.98" stroke="#333" stroke-width="1.20" fill="none"/>
<path d="M520.91 809.07V826.78M516.91 826.78H524.91" stroke="#333" stroke-width="1.20" fill="none"/>
<path d="M65.20 705.16V714.01M61.20 714.01H69.20" stroke="#333" stroke-width="1.20" fill="none"/>
<path d="M74.69 697.78V709.58M70.69 709.58H78.69" stroke="#333" stroke-width="1.20" fill="none"/>
<path d="M84.19 699.25V711.06M80.19 711.06H88.19" stroke="#333" stroke-width="1.20" fill="none"/>
<path d="M93.68 703.68V718.44M89.68 718.44H97.68" stroke="#333" stroke-width="1.20" fill="none"/>
<path d="M122.16 699.84V725.52M118.16 725.52H126.16" stroke="#333" stroke-width="1.20" fill="none"/>
<path d="M179.13 701.91V727.30M175.13 727.30H183.13" stroke="#333" stroke-width="1.20" fill="none"/>
<path d="M293.06 701.02V733.50M289.06 733.50H297.06" stroke="#333" stroke-width="1.20" fill="none"/>
<path d="M406.98 700.14V726.12M402.98 726.12H410.98" stroke="#333" stroke-width="1.20" fill="none"/>
<path d="M520.91 701.32V720.80M516.91 720.80H524.91" stroke="#333" stroke-width="1.20" fill="none"/>
<path d="M65.20 716.96V776.00M61.20 776.00H69.20" stroke="#333" stroke-width="1.20" fill="none"/>
<path d="M74.69 702.20V722.87M70.69 722.87H78.69" stroke="#333" stroke-width="1.20" fill="none"/>
<path d="M84.19 696.30V714.01M80.19 714.01H88.19" stroke="#333" stroke-width="1.20" fill="none"/>
<path d="M93.68 708.11V731.72M89.68 731.72H97.68" stroke="#333" stroke-width="1.20" fill="none"/>
<path d="M122.16 733.20V745.01M118.16 745.01H126.16" stroke="#333" stroke-width="1.20" fill="none"/>
<path d="M179.13 802.57V840.95M175.13 840.95H183.13" stroke="#333" stroke-width="1.20" fill="none"/>
<path d="M293.06 790.47V812.31M289.06 812.31H297.06" stroke="#333" stroke-width="1.20" fill="none"/>
<path d="M406.98 791.65V812.31M402.98 812.31H410.98" stroke="#333" stroke-width="1.20" fill="none"/>
<path d="M520.91 811.43V826.19M516.91 826.19H524.91" stroke="#333" stroke-width="1.20" fill="none"/>
<path d="M65.20 708.11V722.87M61.20 722.87H69.20" stroke="#333" stroke-width="1.20" fill="none"/>
<path d="M74.69 705.16V716.96M70.69 716.96H78.69" stroke="#333" stroke-width="1.20" fill="none"/>
<path d="M84.19 725.82V755.34M80.19 755.34H88.19" stroke="#333" stroke-width="1.20" fill="none"/>
<path d="M93.68 734.68V761.24M89.68 761.24H97.68" stroke="#333" stroke-width="1.20" fill="none"/>
<path d="M122.16 761.24V776.00M118.16 776.00H126.16" stroke="#333" stroke-width="1.20" fill="none"/>
<path d="M179.13 892.61V910.32M175.13 910.32H183.13" stroke="#333" stroke-width="1.20" fill="none"/>
<path d="M293.06 990.02V992.98M289.06 992.98H297.06" stroke="#333" stroke-width="1.20" fill="none"/>
<path d="M65.20 705.16V728.77M61.20 728.77H69.20" stroke="#333" stroke-width="1.20" fill="none"/>
<path d="M74.69 702.20V719.92M70.69 719.92H78.69" stroke="#333" stroke-width="1.20" fill="none"/>
<path d="M84.19 708.11V716.96M80.19 716.96H88.19" stroke="#333" stroke-width="1.20" fill="none"/>
<path d="M93.68 714.01V743.53M89.68 743.53H97.68" stroke="#333" stroke-width="1.20" fill="none"/>
<path d="M122.16 764.20V778.96M118.16 778.96H126.16" stroke="#333" stroke-width="1.20" fill="none"/>
<path d="M179.13 885.23V908.84M175.13 908.84H183.13" stroke="#333" stroke-width="1.20" fill="none"/>
<path d="M293.06 988.55V991.50M289.06 991.50H297.06" stroke="#333" stroke-width="1.20" fill="none"/>
<path d="M65.20 708.11V722.87M61.20 722.87H69.20" stroke="#333" stroke-width="1.20" fill="none"/>
<path d="M74.69 702.20V716.96M70.69 716.96H78.69" stroke="#333" stroke-width="1.20" fill="none"/>
<path d="M84.19 705.16V725.82M80.19 725.82H88.19" stroke="#333" stroke-width="1.20" fill="none"/>
<path d="M93.68 708.11V728.77M89.68 728.77H97.68" stroke="#333" stroke-width="1.20" fill="none"/>
<path d="M122.16 758.29V773.05M118.16 773.05H126.16" stroke="#333" stroke-width="1.20" fill="none"/>
<path d="M179.13 849.80V867.52M175.13 867.52H183.13" stroke="#333" stroke-width="1.20" fill="none"/>
<path d="M293.06 967.88V979.69M289.06 979.69H297.06" stroke="#333" stroke-width="1.20" fill="none"/>
<path d="M406.98 990.02V991.50M402.98 991.50H410.98" stroke="#333" stroke-width="1.20" fill="none"/>
<path d="M65.20 716.96V734.68M61.20 734.68H69.20" stroke="#333" stroke-width="1.20" fill="none"/>
<path d="M74.69 705.16V719.92M70.69 719.92H78.69" stroke="#333" stroke-width="1.20" fill="none"/>
<path d="M84.19 734.68V761.24M80.19 761.24H88.19" stroke="#333" stroke-width="1.20" fill="none"/>
<path d="M93.68 711.06V737.63M89.68 737.63H97.68" stroke="#333" stroke-width="1.20" fill="none"/>
<path d="M122.16 761.24V776.00M118.16 776.00H126.16" stroke="#333" stroke-width="1.20" fill="none"/>
<path d="M179.13 888.18V908.84M175.13 908.84H183.13" stroke="#333" stroke-width="1.20" fill="none"/>
<path d="M293.06 990.02V992.98M289.06 992.98H297.06" stroke="#333" stroke-width="1.20" fill="none"/>
<polyline points="65.20,708.11 74.69,705.16 84.19,725.82 93.68,734.68 122.16,742.06 179.13,785.45 293.06,818.22 406.98,801.39 520.91,816.45" stroke="#000" stroke-width="2.00" fill="none" stroke-dasharray="6.50 4.00"/>
<polyline points="65.20,702.20 74.69,702.20 84.19,702.20 93.68,711.06 122.16,699.25 179.13,710.47 293.06,759.47 406.98,790.17 520.91,809.07" stroke="#000" stroke-width="2.00" fill="none" stroke-dasharray="6.50 4.00"/>
<polyline points="65.20,705.16 74.69,697.78 84.19,699.25 93.68,703.68 122.16,699.84 179.13,701.91 293.06,701.02 406.98,700.14 520.91,701.32" stroke="#000" stroke-width="2.00" fill="none" stroke-dasharray="6.50 4.00"/>
<polyline points="65.20,716.96 74.69,702.20 84.19,696.30 93.68,708.11 122.16,733.20 179.13,802.57 293.06,790.47 406.98,791.65 520.91,811.43" stroke="#000" stroke-width="2.00" fill="none" stroke-dasharray="6.50 4.00"/>
<polyline points="65.20,708.11 74.69,705.16 84.19,725.82 93.68,734.68 122.16,761.24 179.13,892.61 293.06,990.02 406.98,991.50 520.91,991.50" stroke="#000" stroke-width="2.00" fill="none"/>
<polyline points="65.20,705.16 74.69,702.20 84.19,708.11 93.68,714.01 122.16,764.20 179.13,885.23 293.06,988.55 406.98,991.50 520.91,991.50" stroke="#000" stroke-width="2.00" fill="none"/>
<polyline points="65.20,708.11 74.69,702.20 84.19,705.16 93.68,708.11 122.16,758.29 179.13,849.80 293.06,967.88 406.98,990.02 520.91,991.50" stroke="#000" stroke-width="2.00" fill="none"/>
<polyline points="65.20,716.96 74.69,705.16 84.19,734.68 93.68,711.06 122.16,761.24 179.13,888.18 293.06,990.02 406.98,991.50 520.91,991.50" stroke="#000" stroke-width="2.00" fill="none"/>
<circle cx="65.20" cy="708.11" r="3.70" fill="#000"/>
<circle cx="74.69" cy="705.16" r="3.70" fill="#000"/>
<circle cx="84.19" cy="725.82" r="3.70" fill="#000"/>
<circle cx="93.68" cy="734.68" r="3.70" fill="#000"/>
<circle cx="122.16" cy="742.06" r="3.70" fill="#000"/>
<circle cx="179.13" cy="785.45" r="3.70" fill="#000"/>
<circle cx="293.06" cy="818.22" r="3.70" fill="#000"/>
<circle cx="406.98" cy="801.39" r="3.70" fill="#000"/>
<circle cx="520.91" cy="816.45" r="3.70" fill="#000"/>
<rect x="61.69" y="698.69" width="7.03" height="7.03" fill="#000"/>
<rect x="71.18" y="698.69" width="7.03" height="7.03" fill="#000"/>
<rect x="80.67" y="698.69" width="7.03" height="7.03" fill="#000"/>
<rect x="90.17" y="707.54" width="7.03" height="7.03" fill="#000"/>
<rect x="118.65" y="695.74" width="7.03" height="7.03" fill="#000"/>
<rect x="175.61" y="706.95" width="7.03" height="7.03" fill="#000"/>
<rect x="289.54" y="755.96" width="7.03" height="7.03" fill="#000"/>
<rect x="403.47" y="786.66" width="7.03" height="7.03" fill="#000"/>
<rect x="517.40" y="805.55" width="7.03" height="7.03" fill="#000"/>
<path d="M65.20 701.09L69.05 708.49H61.35Z" fill="#000"/>
<path d="M74.69 693.71L78.54 701.11H70.85Z" fill="#000"/>
<path d="M84.19 695.18L88.04 702.58H80.34Z" fill="#000"/>
<path d="M93.68 699.61L97.53 707.01H89.83Z" fill="#000"/>
<path d="M122.16 695.77L126.01 703.17H118.32Z" fill="#000"/>
<path d="M179.13 697.84L182.98 705.24H175.28Z" fill="#000"/>
<path d="M293.06 696.95L296.90 704.35H289.21Z" fill="#000"/>
<path d="M406.98 696.07L410.83 703.47H403.14Z" fill="#000"/>
<path d="M520.91 697.25L524.76 704.65H517.06Z" fill="#000"/>
<path d="M65.20 721.03L69.05 713.63H61.35Z" fill="#000"/>
<path d="M74.69 706.27L78.54 698.87H70.85Z" fill="#000"/>
<path d="M84.19 700.37L88.04 692.97H80.34Z" fill="#000"/>
<path d="M93.68 712.18L97.53 704.78H89.83Z" fill="#000"/>
<path d="M122.16 737.27L126.01 729.87H118.32Z" fill="#000"/>
<path d="M179.13 806.64L182.98 799.24H175.28Z" fill="#000"/>
<path d="M293.06 794.54L296.90 787.14H289.21Z" fill="#000"/>
<path d="M406.98 795.72L410.83 788.32H403.14Z" fill="#000"/>
<path d="M520.91 815.50L524.76 808.10H517.06Z" fill="#000"/>
<circle cx="65.20" cy="708.11" r="3.70" fill="#000"/>
<circle cx="74.69" cy="705.16" r="3.70" fill="#000"/>
<circle cx="84.19" cy="725.82" r="3.70" fill="#000"/>
<circle cx="93.68" cy="734.68" r="3.70" fill="#000"/>
<circle cx="122.16" cy="761.24" r="3.70" fill="#000"/>
<circle cx="179.13" cy="892.61" r="3.70" fill="#000"/>
<circle cx="293.06" cy="990.02" r="3.70" fill="#000"/>
<circle cx="406.98" cy="991.50" r="3.70" fill="#000"/>
<circle cx="520.91" cy="991.50" r="3.70" fill="#000"/>
<rect x="61.69" y="701.64" width="7.03" height="7.03" fill="#000"/>
<rect x="71.18" y="698.69" width="7.03" height="7.03" fill="#000"/>
<rect x="80.67" y="704.59" width="7.03" height="7.03" fill="#000"/>
<rect x="90.17" y="710.50" width="7.03" height="7.03" fill="#000"/>
<rect x="118.65" y="760.68" width="7.03" height="7.03" fill="#000"/>
<rect x="175.61" y="881.71" width="7.03" height="7.03" fill="#000"/>
<rect x="289.54" y="985.03" width="7.03" height="7.03" fill="#000"/>
<rect x="403.47" y="987.99" width="7.03" height="7.03" fill="#000"/>
<rect x="517.40" y="987.99" width="7.03" height="7.03" fill="#000"/>
<path d="M65.20 704.04L69.05 711.44H61.35Z" fill="#000"/>
<path d="M74.69 698.13L78.54 705.53H70.85Z" fill="#000"/>
<path d="M84.19 701.09L88.04 708.49H80.34Z" fill="#000"/>
<path d="M93.68 704.04L97.53 711.44H89.83Z" fill="#000"/>
<path d="M122.16 754.22L126.01 761.62H118.32Z" fill="#000"/>
<path d="M179.13 845.73L182.98 853.13H175.28Z" fill="#000"/>
<path d="M293.06 963.81L296.90 971.21H289.21Z" fill="#000"/>
<path d="M406.98 985.95L410.83 993.35H403.14Z" fill="#000"/>
<path d="M520.91 987.43L524.76 994.83H517.06Z" fill="#000"/>
<path d="M65.20 721.03L69.05 713.63H61.35Z" fill="#000"/>
<path d="M74.69 709.23L78.54 701.83H70.85Z" fill="#000"/>
<path d="M84.19 738.75L88.04 731.35H80.34Z" fill="#000"/>
<path d="M93.68 715.13L97.53 707.73H89.83Z" fill="#000"/>
<path d="M122.16 765.31L126.01 757.91H118.32Z" fill="#000"/>
<path d="M179.13 892.25L182.98 884.85H175.28Z" fill="#000"/>
<path d="M293.06 994.09L296.90 986.69H289.21Z" fill="#000"/>
<path d="M406.98 995.57L410.83 988.17H403.14Z" fill="#000"/>
<path d="M520.91 995.57L524.76 988.17H517.06Z" fill="#000"/>
<path d="M65.20 992.75V637.26" stroke="#000" stroke-width="2.5" fill="none" stroke-linecap="square"/>
<path d="M57.70 991.50H521.91" stroke="#000" stroke-width="2.5" fill="none"/>
<path d="M57.70 991.50H65.20M60.70 961.98H65.20M57.70 932.46H65.20M60.70 902.94H65.20M57.70 873.42H65.20M60.70 843.90H65.20M57.70 814.38H65.20M60.70 784.86H65.20M57.70 755.34H65.20M60.70 725.82H65.20M57.70 696.30H65.20M60.70 666.78H65.20M57.70 637.26H65.20M65.20 991.50V999.40M84.19 991.50V995.80M103.18 991.50V995.80M122.16 991.50V999.40M141.15 991.50V995.80M160.14 991.50V995.80M179.13 991.50V999.40M198.12 991.50V995.80M217.10 991.50V995.80M236.09 991.50V999.40M255.08 991.50V995.80M274.07 991.50V995.80M293.06 991.50V999.40M312.04 991.50V995.80M331.03 991.50V995.80M350.02 991.50V999.40M369.01 991.50V995.80M388.00 991.50V995.80M406.98 991.50V999.40M425.97 991.50V995.80M444.96 991.50V995.80M463.95 991.50V999.40M482.94 991.50V995.80M501.92 991.50V995.80M520.91 991.50V999.40" stroke="#000" stroke-width="2.5" fill="none"/>
<text transform="translate(55.00,997.42) scale(0.9,1)" font-family="Liberation Sans" font-size="14.3" font-weight="700" text-anchor="end">0</text>
<text transform="translate(55.00,938.38) scale(0.9,1)" font-family="Liberation Sans" font-size="14.3" font-weight="700" text-anchor="end">20</text>
<text transform="translate(55.00,879.34) scale(0.9,1)" font-family="Liberation Sans" font-size="14.3" font-weight="700" text-anchor="end">40</text>
<text transform="translate(55.00,820.30) scale(0.9,1)" font-family="Liberation Sans" font-size="14.3" font-weight="700" text-anchor="end">60</text>
<text transform="translate(55.00,761.26) scale(0.9,1)" font-family="Liberation Sans" font-size="14.3" font-weight="700" text-anchor="end">80</text>
<text transform="translate(55.00,702.22) scale(0.9,1)" font-family="Liberation Sans" font-size="14.3" font-weight="700" text-anchor="end">100</text>
<text transform="translate(55.00,643.18) scale(0.9,1)" font-family="Liberation Sans" font-size="14.3" font-weight="700" text-anchor="end">120</text>
<text transform="translate(65.20,1014.80) scale(0.9,1)" font-family="Liberation Sans" font-size="14.3" font-weight="700" text-anchor="middle">0</text>
<text transform="translate(122.16,1014.80) scale(0.9,1)" font-family="Liberation Sans" font-size="14.3" font-weight="700" text-anchor="middle">12</text>
<text transform="translate(179.13,1014.80) scale(0.9,1)" font-family="Liberation Sans" font-size="14.3" font-weight="700" text-anchor="middle">24</text>
<text transform="translate(236.09,1014.80) scale(0.9,1)" font-family="Liberation Sans" font-size="14.3" font-weight="700" text-anchor="middle">36</text>
<text transform="translate(293.06,1014.80) scale(0.9,1)" font-family="Liberation Sans" font-size="14.3" font-weight="700" text-anchor="middle">48</text>
<text transform="translate(350.02,1014.80) scale(0.9,1)" font-family="Liberation Sans" font-size="14.3" font-weight="700" text-anchor="middle">60</text>
<text transform="translate(406.98,1014.80) scale(0.9,1)" font-family="Liberation Sans" font-size="14.3" font-weight="700" text-anchor="middle">72</text>
<text transform="translate(463.95,1014.80) scale(0.9,1)" font-family="Liberation Sans" font-size="14.3" font-weight="700" text-anchor="middle">84</text>
<text transform="translate(520.91,1014.80) scale(0.9,1)" font-family="Liberation Sans" font-size="14.3" font-weight="700" text-anchor="middle">96</text>
<text x="295.60" y="1037.80" font-family="Liberation Sans" font-size="15.0" font-weight="700" text-anchor="middle">time [h]</text>
<text transform="translate(24.70,814.00) rotate(-90)" font-family="Liberation Sans" font-size="15.0" font-weight="700" text-anchor="middle">Integrated fluorescence intensity [%]</text>
<path d="M63.90 1072.10H84.90M104.90 1072.10H84.90" stroke="#000" stroke-width="1.90" stroke-dasharray="4.9 4.0" fill="none"/>
<circle cx="84.90" cy="1072.10" r="3.50" fill="#000"/>
<text x="117.30" y="1077.36" font-family="Liberation Sans" font-size="14.6">NK-92 control</text>
<path d="M63.90 1095.78H84.90M104.90 1095.78H84.90" stroke="#000" stroke-width="1.90" stroke-dasharray="4.9 4.0" fill="none"/>
<rect x="81.58" y="1092.45" width="6.65" height="6.65" fill="#000"/>
<text x="117.30" y="1101.04" font-family="Liberation Sans" font-size="14.6">NK-92 Hypox</text>
<path d="M63.90 1119.46H84.90M104.90 1119.46H84.90" stroke="#000" stroke-width="1.90" stroke-dasharray="4.9 4.0" fill="none"/>
<path d="M84.90 1115.61L88.54 1122.61H81.26Z" fill="#000"/>
<text x="117.30" y="1124.72" font-family="Liberation Sans" font-size="14.6">NK-92 pH</text>
<path d="M63.90 1143.14H84.90M104.90 1143.14H84.90" stroke="#000" stroke-width="1.90" stroke-dasharray="4.9 4.0" fill="none"/>
<path d="M84.90 1146.99L88.54 1139.99H81.26Z" fill="#000"/>
<text x="117.30" y="1148.40" font-family="Liberation Sans" font-size="14.6">NK-92 SN</text>
<path d="M63.90 1166.82H104.90" stroke="#000" stroke-width="2.20" fill="none"/>
<circle cx="84.90" cy="1166.82" r="3.50" fill="#000"/>
<text x="117.30" y="1172.08" font-family="Liberation Sans" font-size="14.6">CD276-CAR NK-92 control</text>
<path d="M63.90 1190.50H104.90" stroke="#000" stroke-width="2.20" fill="none"/>
<rect x="81.58" y="1187.17" width="6.65" height="6.65" fill="#000"/>
<text x="117.30" y="1195.76" font-family="Liberation Sans" font-size="14.6">CD276-CAR NK-92 Hypox</text>
<path d="M63.90 1214.18H104.90" stroke="#000" stroke-width="2.20" fill="none"/>
<path d="M84.90 1210.33L88.54 1217.33H81.26Z" fill="#000"/>
<text x="117.30" y="1219.44" font-family="Liberation Sans" font-size="14.6">CD276-CAR NK-92 pH</text>
<path d="M63.90 1237.86H104.90" stroke="#000" stroke-width="2.20" fill="none"/>
<path d="M84.90 1241.71L88.54 1234.71H81.26Z" fill="#000"/>
<text x="117.30" y="1243.12" font-family="Liberation Sans" font-size="14.6">CD276-CAR NK-92 SN</text>
<path d="M705.80 699.13V710.26M702.03 710.26H709.57" stroke="#333" stroke-width="1.13" fill="none"/>
<path d="M714.75 696.35V710.26M710.98 710.26H718.53" stroke="#333" stroke-width="1.13" fill="none"/>
<path d="M723.71 704.70V721.40M719.94 721.40H727.48" stroke="#333" stroke-width="1.13" fill="none"/>
<path d="M732.66 710.26V724.18M728.89 724.18H736.43" stroke="#333" stroke-width="1.13" fill="none"/>
<path d="M759.52 731.14V742.27M755.75 742.27H763.30" stroke="#333" stroke-width="1.13" fill="none"/>
<path d="M813.25 772.32V800.15M809.48 800.15H817.02" stroke="#333" stroke-width="1.13" fill="none"/>
<path d="M920.70 803.22V812.96M916.92 812.96H924.47" stroke="#333" stroke-width="1.13" fill="none"/>
<path d="M1028.14 787.07V809.34M1024.37 809.34H1031.92" stroke="#333" stroke-width="1.13" fill="none"/>
<path d="M1135.59 801.55V810.73M1131.82 810.73H1139.36" stroke="#333" stroke-width="1.13" fill="none"/>
<path d="M705.80 693.57V707.48M702.03 707.48H709.57" stroke="#333" stroke-width="1.13" fill="none"/>
<path d="M714.75 690.78V707.48M710.98 707.48H718.53" stroke="#333" stroke-width="1.13" fill="none"/>
<path d="M723.71 701.91V724.18M719.94 724.18H727.48" stroke="#333" stroke-width="1.13" fill="none"/>
<path d="M732.66 701.91V718.61M728.89 718.61H736.43" stroke="#333" stroke-width="1.13" fill="none"/>
<path d="M759.52 700.52V714.44M755.75 714.44H763.30" stroke="#333" stroke-width="1.13" fill="none"/>
<path d="M813.25 700.52V717.22M809.48 717.22H817.02" stroke="#333" stroke-width="1.13" fill="none"/>
<path d="M920.70 699.97V725.01M916.92 725.01H924.47" stroke="#333" stroke-width="1.13" fill="none"/>
<path d="M1028.14 702.19V724.46M1024.37 724.46H1031.92" stroke="#333" stroke-width="1.13" fill="none"/>
<path d="M1135.59 708.87V720.00M1131.82 720.00H1139.36" stroke="#333" stroke-width="1.13" fill="none"/>
<path d="M705.80 689.39V711.66M702.03 711.66H709.57" stroke="#333" stroke-width="1.13" fill="none"/>
<path d="M714.75 688.00V704.70M710.98 704.70H718.53" stroke="#333" stroke-width="1.13" fill="none"/>
<path d="M723.71 693.57V721.40M719.94 721.40H727.48" stroke="#333" stroke-width="1.13" fill="none"/>
<path d="M732.66 694.12V708.04M728.89 708.04H736.43" stroke="#333" stroke-width="1.13" fill="none"/>
<path d="M759.52 689.39V706.09M755.75 706.09H763.30" stroke="#333" stroke-width="1.13" fill="none"/>
<path d="M813.25 698.30V715.00M809.48 715.00H817.02" stroke="#333" stroke-width="1.13" fill="none"/>
<path d="M920.70 708.87V740.88M916.92 740.88H924.47" stroke="#333" stroke-width="1.13" fill="none"/>
<path d="M1028.14 711.10V733.36M1024.37 733.36H1031.92" stroke="#333" stroke-width="1.13" fill="none"/>
<path d="M1135.59 733.64V750.34M1131.82 750.34H1139.36" stroke="#333" stroke-width="1.13" fill="none"/>
<path d="M705.80 699.13V715.83M702.03 715.83H709.57" stroke="#333" stroke-width="1.13" fill="none"/>
<path d="M714.75 696.35V724.18M710.98 724.18H718.53" stroke="#333" stroke-width="1.13" fill="none"/>
<path d="M723.71 696.35V729.74M719.94 729.74H727.48" stroke="#333" stroke-width="1.13" fill="none"/>
<path d="M732.66 704.70V721.40M728.89 721.40H736.43" stroke="#333" stroke-width="1.13" fill="none"/>
<path d="M759.52 707.48V726.96M755.75 726.96H763.30" stroke="#333" stroke-width="1.13" fill="none"/>
<path d="M813.25 702.47V724.74M809.48 724.74H817.02" stroke="#333" stroke-width="1.13" fill="none"/>
<path d="M920.70 699.13V724.18M916.92 724.18H924.47" stroke="#333" stroke-width="1.13" fill="none"/>
<path d="M1028.14 705.25V724.74M1024.37 724.74H1031.92" stroke="#333" stroke-width="1.13" fill="none"/>
<path d="M1135.59 710.26V721.40M1131.82 721.40H1139.36" stroke="#333" stroke-width="1.13" fill="none"/>
<path d="M705.80 707.48V729.74M702.03 729.74H709.57" stroke="#333" stroke-width="1.13" fill="none"/>
<path d="M714.75 701.91V724.18M710.98 724.18H718.53" stroke="#333" stroke-width="1.13" fill="none"/>
<path d="M723.71 710.26V746.44M719.94 746.44H727.48" stroke="#333" stroke-width="1.13" fill="none"/>
<path d="M732.66 707.48V724.18M728.89 724.18H736.43" stroke="#333" stroke-width="1.13" fill="none"/>
<path d="M759.52 710.26V726.96M755.75 726.96H763.30" stroke="#333" stroke-width="1.13" fill="none"/>
<path d="M813.25 701.91V724.18M809.48 724.18H817.02" stroke="#333" stroke-width="1.13" fill="none"/>
<path d="M920.70 694.40V711.10M916.92 711.10H924.47" stroke="#333" stroke-width="1.13" fill="none"/>
<path d="M1028.14 694.96V717.22M1024.37 717.22H1031.92" stroke="#333" stroke-width="1.13" fill="none"/>
<path d="M1135.59 705.25V716.39M1131.82 716.39H1139.36" stroke="#333" stroke-width="1.13" fill="none"/>
<path d="M705.80 699.13V713.05M702.03 713.05H709.57" stroke="#333" stroke-width="1.13" fill="none"/>
<path d="M714.75 704.70V721.40M710.98 721.40H718.53" stroke="#333" stroke-width="1.13" fill="none"/>
<path d="M723.71 710.26V732.53M719.94 732.53H727.48" stroke="#333" stroke-width="1.13" fill="none"/>
<path d="M732.66 725.01V738.93M728.89 738.93H736.43" stroke="#333" stroke-width="1.13" fill="none"/>
<path d="M759.52 750.06V763.98M755.75 763.98H763.30" stroke="#333" stroke-width="1.13" fill="none"/>
<path d="M813.25 873.07V889.77M809.48 889.77H817.02" stroke="#333" stroke-width="1.13" fill="none"/>
<path d="M920.70 964.91V967.69M916.92 967.69H924.47" stroke="#333" stroke-width="1.13" fill="none"/>
<path d="M705.80 696.35V713.05M702.03 713.05H709.57" stroke="#333" stroke-width="1.13" fill="none"/>
<path d="M714.75 710.26V732.53M710.98 732.53H718.53" stroke="#333" stroke-width="1.13" fill="none"/>
<path d="M723.71 718.61V760.36M719.94 760.36H727.48" stroke="#333" stroke-width="1.13" fill="none"/>
<path d="M732.66 731.69V745.61M728.89 745.61H736.43" stroke="#333" stroke-width="1.13" fill="none"/>
<path d="M759.52 748.39V765.09M755.75 765.09H763.30" stroke="#333" stroke-width="1.13" fill="none"/>
<path d="M813.25 809.34V826.04M809.48 826.04H817.02" stroke="#333" stroke-width="1.13" fill="none"/>
<path d="M920.70 962.13V964.91M916.92 964.91H924.47" stroke="#333" stroke-width="1.13" fill="none"/>
<path d="M705.80 693.57V710.26M702.03 710.26H709.57" stroke="#333" stroke-width="1.13" fill="none"/>
<path d="M714.75 699.13V749.23M710.98 749.23H718.53" stroke="#333" stroke-width="1.13" fill="none"/>
<path d="M723.71 721.40V764.81M719.94 764.81H727.48" stroke="#333" stroke-width="1.13" fill="none"/>
<path d="M732.66 726.96V746.44M728.89 746.44H736.43" stroke="#333" stroke-width="1.13" fill="none"/>
<path d="M759.52 763.14V796.54M755.75 796.54H763.30" stroke="#333" stroke-width="1.13" fill="none"/>
<path d="M813.25 868.89V888.38M809.48 888.38H817.02" stroke="#333" stroke-width="1.13" fill="none"/>
<path d="M920.70 960.73V963.52M916.92 963.52H924.47" stroke="#333" stroke-width="1.13" fill="none"/>
<path d="M705.80 699.13V715.83M702.03 715.83H709.57" stroke="#333" stroke-width="1.13" fill="none"/>
<path d="M714.75 701.91V724.18M710.98 724.18H718.53" stroke="#333" stroke-width="1.13" fill="none"/>
<path d="M723.71 710.26V738.09M719.94 738.09H727.48" stroke="#333" stroke-width="1.13" fill="none"/>
<path d="M732.66 721.40V738.09M728.89 738.09H736.43" stroke="#333" stroke-width="1.13" fill="none"/>
<path d="M759.52 739.49V758.97M755.75 758.97H763.30" stroke="#333" stroke-width="1.13" fill="none"/>
<path d="M813.25 804.33V826.59M809.48 826.59H817.02" stroke="#333" stroke-width="1.13" fill="none"/>
<path d="M920.70 953.78V959.34M916.92 959.34H924.47" stroke="#333" stroke-width="1.13" fill="none"/>
<path d="M705.80 701.91V718.61M702.03 718.61H709.57" stroke="#333" stroke-width="1.13" fill="none"/>
<path d="M714.75 707.48V729.74M710.98 729.74H718.53" stroke="#333" stroke-width="1.13" fill="none"/>
<path d="M723.71 715.83V743.66M719.94 743.66H727.48" stroke="#333" stroke-width="1.13" fill="none"/>
<path d="M732.66 729.74V749.23M728.89 749.23H736.43" stroke="#333" stroke-width="1.13" fill="none"/>
<path d="M759.52 761.75V778.45M755.75 778.45H763.30" stroke="#333" stroke-width="1.13" fill="none"/>
<path d="M813.25 871.68V891.16M809.48 891.16H817.02" stroke="#333" stroke-width="1.13" fill="none"/>
<path d="M920.70 963.52V966.30M916.92 966.30H924.47" stroke="#333" stroke-width="1.13" fill="none"/>
<polyline points="705.80,699.13 714.75,696.35 723.71,704.70 732.66,710.26 759.52,731.14 813.25,772.32 920.70,803.22 1028.14,787.07 1135.59,801.55" stroke="#000" stroke-width="1.89" fill="none" stroke-dasharray="6.13 3.77"/>
<polyline points="705.80,693.57 714.75,690.78 723.71,701.91 732.66,701.91 759.52,700.52 813.25,700.52 920.70,699.97 1028.14,702.19 1135.59,708.87" stroke="#000" stroke-width="1.89" fill="none" stroke-dasharray="6.13 3.77"/>
<polyline points="705.80,689.39 714.75,688.00 723.71,693.57 732.66,694.12 759.52,689.39 813.25,698.30 920.70,708.87 1028.14,711.10 1135.59,733.64" stroke="#000" stroke-width="1.89" fill="none" stroke-dasharray="6.13 3.77"/>
<polyline points="705.80,699.13 714.75,696.35 723.71,696.35 732.66,704.70 759.52,707.48 813.25,702.47 920.70,699.13 1028.14,705.25 1135.59,710.26" stroke="#000" stroke-width="1.89" fill="none" stroke-dasharray="6.13 3.77"/>
<polyline points="705.80,707.48 714.75,701.91 723.71,710.26 732.66,707.48 759.52,710.26 813.25,701.91 920.70,694.40 1028.14,694.96 1135.59,705.25" stroke="#000" stroke-width="1.89" fill="none" stroke-dasharray="6.13 3.77"/>
<polyline points="705.80,699.13 714.75,704.70 723.71,710.26 732.66,725.01 759.52,750.06 813.25,873.07 920.70,964.91 1028.14,966.30 1135.59,966.30" stroke="#000" stroke-width="1.89" fill="none"/>
<polyline points="705.80,696.35 714.75,710.26 723.71,718.61 732.66,731.69 759.52,748.39 813.25,809.34 920.70,962.13 1028.14,965.47 1135.59,966.30" stroke="#000" stroke-width="1.89" fill="none"/>
<polyline points="705.80,693.57 714.75,699.13 723.71,721.40 732.66,726.96 759.52,763.14 813.25,868.89 920.70,960.73 1028.14,964.91 1135.59,966.30" stroke="#000" stroke-width="1.89" fill="none"/>
<polyline points="705.80,699.13 714.75,701.91 723.71,710.26 732.66,721.40 759.52,739.49 813.25,804.33 920.70,953.78 1028.14,964.91 1135.59,966.30" stroke="#000" stroke-width="1.89" fill="none"/>
<polyline points="705.80,701.91 714.75,707.48 723.71,715.83 732.66,729.74 759.52,761.75 813.25,871.68 920.70,963.52 1028.14,964.91 1135.59,966.30" stroke="#000" stroke-width="1.89" fill="none"/>
<circle cx="705.80" cy="699.13" r="3.50" fill="#000"/>
<circle cx="714.75" cy="696.35" r="3.50" fill="#000"/>
<circle cx="723.71" cy="704.70" r="3.50" fill="#000"/>
<circle cx="732.66" cy="710.26" r="3.50" fill="#000"/>
<circle cx="759.52" cy="731.14" r="3.50" fill="#000"/>
<circle cx="813.25" cy="772.32" r="3.50" fill="#000"/>
<circle cx="920.70" cy="803.22" r="3.50" fill="#000"/>
<circle cx="1028.14" cy="787.07" r="3.50" fill="#000"/>
<circle cx="1135.59" cy="801.55" r="3.50" fill="#000"/>
<circle cx="705.80" cy="693.57" r="3.20" fill="none" stroke="#000" stroke-width="1.80"/>
<circle cx="714.75" cy="690.78" r="3.20" fill="none" stroke="#000" stroke-width="1.80"/>
<circle cx="723.71" cy="701.91" r="3.20" fill="none" stroke="#000" stroke-width="1.80"/>
<circle cx="732.66" cy="701.91" r="3.20" fill="none" stroke="#000" stroke-width="1.80"/>
<circle cx="759.52" cy="700.52" r="3.20" fill="none" stroke="#000" stroke-width="1.80"/>
<circle cx="813.25" cy="700.52" r="3.20" fill="none" stroke="#000" stroke-width="1.80"/>
<circle cx="920.70" cy="699.97" r="3.20" fill="none" stroke="#000" stroke-width="1.80"/>
<circle cx="1028.14" cy="702.19" r="3.20" fill="none" stroke="#000" stroke-width="1.80"/>
<circle cx="1135.59" cy="708.87" r="3.20" fill="none" stroke="#000" stroke-width="1.80"/>
<rect x="702.76" y="686.35" width="6.08" height="6.08" fill="none" stroke="#000" stroke-width="1.80"/>
<rect x="711.71" y="684.96" width="6.08" height="6.08" fill="none" stroke="#000" stroke-width="1.80"/>
<rect x="720.67" y="690.53" width="6.08" height="6.08" fill="none" stroke="#000" stroke-width="1.80"/>
<rect x="729.62" y="691.08" width="6.08" height="6.08" fill="none" stroke="#000" stroke-width="1.80"/>
<rect x="756.48" y="686.35" width="6.08" height="6.08" fill="none" stroke="#000" stroke-width="1.80"/>
<rect x="810.21" y="695.26" width="6.08" height="6.08" fill="none" stroke="#000" stroke-width="1.80"/>
<rect x="917.66" y="705.83" width="6.08" height="6.08" fill="none" stroke="#000" stroke-width="1.80"/>
<rect x="1025.10" y="708.06" width="6.08" height="6.08" fill="none" stroke="#000" stroke-width="1.80"/>
<rect x="1132.55" y="730.60" width="6.08" height="6.08" fill="none" stroke="#000" stroke-width="1.80"/>
<path d="M705.80 695.61L709.13 702.01H702.47Z" fill="none" stroke="#000" stroke-width="1.80"/>
<path d="M714.75 692.83L718.08 699.23H711.43Z" fill="none" stroke="#000" stroke-width="1.80"/>
<path d="M723.71 692.83L727.04 699.23H720.38Z" fill="none" stroke="#000" stroke-width="1.80"/>
<path d="M732.66 701.18L735.99 707.58H729.33Z" fill="none" stroke="#000" stroke-width="1.80"/>
<path d="M759.52 703.96L762.85 710.36H756.20Z" fill="none" stroke="#000" stroke-width="1.80"/>
<path d="M813.25 698.95L816.58 705.35H809.92Z" fill="none" stroke="#000" stroke-width="1.80"/>
<path d="M920.70 695.61L924.02 702.01H917.37Z" fill="none" stroke="#000" stroke-width="1.80"/>
<path d="M1028.14 701.73L1031.47 708.13H1024.82Z" fill="none" stroke="#000" stroke-width="1.80"/>
<path d="M1135.59 706.74L1138.92 713.14H1132.26Z" fill="none" stroke="#000" stroke-width="1.80"/>
<path d="M705.80 711.00L709.13 704.60H702.47Z" fill="none" stroke="#000" stroke-width="1.80"/>
<path d="M714.75 705.43L718.08 699.03H711.43Z" fill="none" stroke="#000" stroke-width="1.80"/>
<path d="M723.71 713.78L727.04 707.38H720.38Z" fill="none" stroke="#000" stroke-width="1.80"/>
<path d="M732.66 711.00L735.99 704.60H729.33Z" fill="none" stroke="#000" stroke-width="1.80"/>
<path d="M759.52 713.78L762.85 707.38H756.20Z" fill="none" stroke="#000" stroke-width="1.80"/>
<path d="M813.25 705.43L816.58 699.03H809.92Z" fill="none" stroke="#000" stroke-width="1.80"/>
<path d="M920.70 697.92L924.02 691.52H917.37Z" fill="none" stroke="#000" stroke-width="1.80"/>
<path d="M1028.14 698.48L1031.47 692.08H1024.82Z" fill="none" stroke="#000" stroke-width="1.80"/>
<path d="M1135.59 708.77L1138.92 702.37H1132.26Z" fill="none" stroke="#000" stroke-width="1.80"/>
<circle cx="705.80" cy="699.13" r="3.50" fill="#000"/>
<circle cx="714.75" cy="704.70" r="3.50" fill="#000"/>
<circle cx="723.71" cy="710.26" r="3.50" fill="#000"/>
<circle cx="732.66" cy="725.01" r="3.50" fill="#000"/>
<circle cx="759.52" cy="750.06" r="3.50" fill="#000"/>
<circle cx="813.25" cy="873.07" r="3.50" fill="#000"/>
<circle cx="920.70" cy="964.91" r="3.50" fill="#000"/>
<circle cx="1028.14" cy="966.30" r="3.50" fill="#000"/>
<circle cx="1135.59" cy="966.30" r="3.50" fill="#000"/>
<circle cx="705.80" cy="696.35" r="3.20" fill="none" stroke="#000" stroke-width="1.80"/>
<circle cx="714.75" cy="710.26" r="3.20" fill="none" stroke="#000" stroke-width="1.80"/>
<circle cx="723.71" cy="718.61" r="3.20" fill="none" stroke="#000" stroke-width="1.80"/>
<circle cx="732.66" cy="731.69" r="3.20" fill="none" stroke="#000" stroke-width="1.80"/>
<circle cx="759.52" cy="748.39" r="3.20" fill="none" stroke="#000" stroke-width="1.80"/>
<circle cx="813.25" cy="809.34" r="3.20" fill="none" stroke="#000" stroke-width="1.80"/>
<circle cx="920.70" cy="962.13" r="3.20" fill="none" stroke="#000" stroke-width="1.80"/>
<circle cx="1028.14" cy="965.47" r="3.20" fill="none" stroke="#000" stroke-width="1.80"/>
<circle cx="1135.59" cy="966.30" r="3.20" fill="none" stroke="#000" stroke-width="1.80"/>
<rect x="702.76" y="690.53" width="6.08" height="6.08" fill="none" stroke="#000" stroke-width="1.80"/>
<rect x="711.71" y="696.09" width="6.08" height="6.08" fill="none" stroke="#000" stroke-width="1.80"/>
<rect x="720.67" y="718.36" width="6.08" height="6.08" fill="none" stroke="#000" stroke-width="1.80"/>
<rect x="729.62" y="723.92" width="6.08" height="6.08" fill="none" stroke="#000" stroke-width="1.80"/>
<rect x="756.48" y="760.10" width="6.08" height="6.08" fill="none" stroke="#000" stroke-width="1.80"/>
<rect x="810.21" y="865.86" width="6.08" height="6.08" fill="none" stroke="#000" stroke-width="1.80"/>
<rect x="917.66" y="957.69" width="6.08" height="6.08" fill="none" stroke="#000" stroke-width="1.80"/>
<rect x="1025.10" y="961.87" width="6.08" height="6.08" fill="none" stroke="#000" stroke-width="1.80"/>
<rect x="1132.55" y="963.26" width="6.08" height="6.08" fill="none" stroke="#000" stroke-width="1.80"/>
<path d="M705.80 695.61L709.13 702.01H702.47Z" fill="none" stroke="#000" stroke-width="1.80"/>
<path d="M714.75 698.39L718.08 704.79H711.43Z" fill="none" stroke="#000" stroke-width="1.80"/>
<path d="M723.71 706.74L727.04 713.14H720.38Z" fill="none" stroke="#000" stroke-width="1.80"/>
<path d="M732.66 717.88L735.99 724.28H729.33Z" fill="none" stroke="#000" stroke-width="1.80"/>
<path d="M759.52 735.97L762.85 742.37H756.20Z" fill="none" stroke="#000" stroke-width="1.80"/>
<path d="M813.25 800.81L816.58 807.21H809.92Z" fill="none" stroke="#000" stroke-width="1.80"/>
<path d="M920.70 950.26L924.02 956.66H917.37Z" fill="none" stroke="#000" stroke-width="1.80"/>
<path d="M1028.14 961.39L1031.47 967.79H1024.82Z" fill="none" stroke="#000" stroke-width="1.80"/>
<path d="M1135.59 962.78L1138.92 969.18H1132.26Z" fill="none" stroke="#000" stroke-width="1.80"/>
<path d="M705.80 705.43L709.13 699.03H702.47Z" fill="none" stroke="#000" stroke-width="1.80"/>
<path d="M714.75 711.00L718.08 704.60H711.43Z" fill="none" stroke="#000" stroke-width="1.80"/>
<path d="M723.71 719.35L727.04 712.95H720.38Z" fill="none" stroke="#000" stroke-width="1.80"/>
<path d="M732.66 733.26L735.99 726.86H729.33Z" fill="none" stroke="#000" stroke-width="1.80"/>
<path d="M759.52 765.27L762.85 758.87H756.20Z" fill="none" stroke="#000" stroke-width="1.80"/>
<path d="M813.25 875.20L816.58 868.80H809.92Z" fill="none" stroke="#000" stroke-width="1.80"/>
<path d="M920.70 967.04L924.02 960.64H917.37Z" fill="none" stroke="#000" stroke-width="1.80"/>
<path d="M1028.14 968.43L1031.47 962.03H1024.82Z" fill="none" stroke="#000" stroke-width="1.80"/>
<path d="M1135.59 969.82L1138.92 963.42H1132.26Z" fill="none" stroke="#000" stroke-width="1.80"/>
<path d="M705.80 967.40V632.34" stroke="#000" stroke-width="2.2" fill="none" stroke-linecap="square"/>
<path d="M698.73 966.30H1136.59" stroke="#000" stroke-width="2.2" fill="none"/>
<path d="M698.73 966.30H705.80M701.56 938.47H705.80M698.73 910.64H705.80M701.56 882.81H705.80M698.73 854.98H705.80M701.56 827.15H705.80M698.73 799.32H705.80M701.56 771.49H705.80M698.73 743.66H705.80M701.56 715.83H705.80M698.73 688.00H705.80M701.56 660.17H705.80M698.73 632.34H705.80M705.80 966.30V973.75M723.71 966.30V970.35M741.62 966.30V970.35M759.52 966.30V973.75M777.43 966.30V970.35M795.34 966.30V970.35M813.25 966.30V973.75M831.16 966.30V970.35M849.06 966.30V970.35M866.97 966.30V973.75M884.88 966.30V970.35M902.79 966.30V970.35M920.70 966.30V973.75M938.60 966.30V970.35M956.51 966.30V970.35M974.42 966.30V973.75M992.33 966.30V970.35M1010.24 966.30V970.35M1028.14 966.30V973.75M1046.05 966.30V970.35M1063.96 966.30V970.35M1081.87 966.30V973.75M1099.78 966.30V970.35M1117.68 966.30V970.35M1135.59 966.30V973.75" stroke="#000" stroke-width="2.2" fill="none"/>
<text transform="translate(696.30,970.76) scale(0.92,1)" font-family="Liberation Sans" font-size="13.3" font-weight="700" text-anchor="end">0</text>
<text transform="translate(696.30,915.10) scale(0.92,1)" font-family="Liberation Sans" font-size="13.3" font-weight="700" text-anchor="end">20</text>
<text transform="translate(696.30,859.44) scale(0.92,1)" font-family="Liberation Sans" font-size="13.3" font-weight="700" text-anchor="end">40</text>
<text transform="translate(696.30,803.78) scale(0.92,1)" font-family="Liberation Sans" font-size="13.3" font-weight="700" text-anchor="end">60</text>
<text transform="translate(696.30,748.12) scale(0.92,1)" font-family="Liberation Sans" font-size="13.3" font-weight="700" text-anchor="end">80</text>
<text transform="translate(696.30,692.46) scale(0.92,1)" font-family="Liberation Sans" font-size="13.3" font-weight="700" text-anchor="end">100</text>
<text transform="translate(696.30,636.80) scale(0.92,1)" font-family="Liberation Sans" font-size="13.3" font-weight="700" text-anchor="end">120</text>
<text transform="translate(705.80,988.30) scale(0.92,1)" font-family="Liberation Sans" font-size="13.3" font-weight="700" text-anchor="middle">0</text>
<text transform="translate(759.52,988.30) scale(0.92,1)" font-family="Liberation Sans" font-size="13.3" font-weight="700" text-anchor="middle">12</text>
<text transform="translate(813.25,988.30) scale(0.92,1)" font-family="Liberation Sans" font-size="13.3" font-weight="700" text-anchor="middle">24</text>
<text transform="translate(866.97,988.30) scale(0.92,1)" font-family="Liberation Sans" font-size="13.3" font-weight="700" text-anchor="middle">36</text>
<text transform="translate(920.70,988.30) scale(0.92,1)" font-family="Liberation Sans" font-size="13.3" font-weight="700" text-anchor="middle">48</text>
<text transform="translate(974.42,988.30) scale(0.92,1)" font-family="Liberation Sans" font-size="13.3" font-weight="700" text-anchor="middle">60</text>
<text transform="translate(1028.14,988.30) scale(0.92,1)" font-family="Liberation Sans" font-size="13.3" font-weight="700" text-anchor="middle">72</text>
<text transform="translate(1081.87,988.30) scale(0.92,1)" font-family="Liberation Sans" font-size="13.3" font-weight="700" text-anchor="middle">84</text>
<text transform="translate(1135.59,988.30) scale(0.92,1)" font-family="Liberation Sans" font-size="13.3" font-weight="700" text-anchor="middle">96</text>
<text x="922.90" y="1009.50" font-family="Liberation Sans" font-size="13.7" font-weight="700" text-anchor="middle">time [h]</text>
<text transform="translate(668.30,796.00) rotate(-90)" font-family="Liberation Sans" font-size="13.7" font-weight="700" text-anchor="middle">Integrated fluorescence intensity [%]</text>
<path d="M705.00 1039.50H724.30M743.20 1039.50H724.30" stroke="#000" stroke-width="1.79" stroke-dasharray="4.4 3.9" fill="none"/>
<circle cx="724.30" cy="1039.50" r="3.40" fill="#000"/>
<text x="754.30" y="1044.50" font-family="Liberation Sans" font-size="13.9">NK-92 control</text>
<path d="M705.00 1062.18H724.30M743.20 1062.18H724.30" stroke="#000" stroke-width="1.79" stroke-dasharray="4.4 3.9" fill="none"/>
<circle cx="724.30" cy="1062.18" r="3.45" fill="none" stroke="#000" stroke-width="1.90"/>
<text x="754.30" y="1067.18" font-family="Liberation Sans" font-size="13.9">NK-92 Hypox + pH</text>
<path d="M705.00 1084.86H724.30M743.20 1084.86H724.30" stroke="#000" stroke-width="1.79" stroke-dasharray="4.4 3.9" fill="none"/>
<rect x="721.02" y="1081.58" width="6.55" height="6.55" fill="none" stroke="#000" stroke-width="1.90"/>
<text x="754.30" y="1089.86" font-family="Liberation Sans" font-size="13.9">NK-92 Hypox + SN</text>
<path d="M705.00 1107.54H724.30M743.20 1107.54H724.30" stroke="#000" stroke-width="1.79" stroke-dasharray="4.4 3.9" fill="none"/>
<path d="M724.30 1103.74L727.89 1110.64H720.71Z" fill="none" stroke="#000" stroke-width="1.90"/>
<text x="754.30" y="1112.54" font-family="Liberation Sans" font-size="13.9">NK-92 pH + SN</text>
<path d="M705.00 1130.22H724.30M743.20 1130.22H724.30" stroke="#000" stroke-width="1.79" stroke-dasharray="4.4 3.9" fill="none"/>
<path d="M724.30 1134.02L727.89 1127.12H720.71Z" fill="none" stroke="#000" stroke-width="1.90"/>
<text x="754.30" y="1135.22" font-family="Liberation Sans" font-size="13.9">NK-92 Hypox + pH + SN</text>
<path d="M705.00 1152.90H743.20" stroke="#000" stroke-width="2.07" fill="none"/>
<circle cx="724.30" cy="1152.90" r="3.40" fill="#000"/>
<text x="754.30" y="1157.90" font-family="Liberation Sans" font-size="13.9">CD276-CAR NK-92 control</text>
<path d="M705.00 1175.58H743.20" stroke="#000" stroke-width="2.07" fill="none"/>
<circle cx="724.30" cy="1175.58" r="3.45" fill="none" stroke="#000" stroke-width="1.90"/>
<text x="754.30" y="1180.58" font-family="Liberation Sans" font-size="13.9">CD276-CAR NK-92 Hypox + pH</text>
<path d="M705.00 1198.26H743.20" stroke="#000" stroke-width="2.07" fill="none"/>
<rect x="721.02" y="1194.98" width="6.55" height="6.55" fill="none" stroke="#000" stroke-width="1.90"/>
<text x="754.30" y="1203.26" font-family="Liberation Sans" font-size="13.9">CD276-CAR NK-92 Hypox + SN</text>
<path d="M705.00 1220.94H743.20" stroke="#000" stroke-width="2.07" fill="none"/>
<path d="M724.30 1217.14L727.89 1224.05H720.71Z" fill="none" stroke="#000" stroke-width="1.90"/>
<text x="754.30" y="1225.94" font-family="Liberation Sans" font-size="13.9">CD276-CAR NK-92 pH + SN</text>
<path d="M705.00 1243.62H743.20" stroke="#000" stroke-width="2.07" fill="none"/>
<path d="M724.30 1247.41L727.89 1240.51H720.71Z" fill="none" stroke="#000" stroke-width="1.90"/>
<text x="754.30" y="1248.62" font-family="Liberation Sans" font-size="13.9">CD276-CAR NK-92 Hypox + pH + SN</text>
</svg>
</body></html>
